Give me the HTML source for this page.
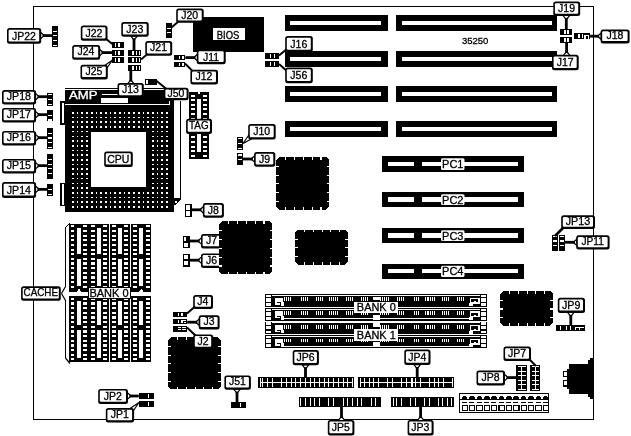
<!DOCTYPE html>
<html lang="en">
<head>
<meta charset="utf-8">
<title>35250 motherboard jumper layout</title>
<style>
html,body{margin:0;padding:0;background:#fff;}
body{width:631px;height:436px;overflow:hidden;}
svg{display:block;will-change:transform;}
svg text{font-family:"Liberation Sans",sans-serif;stroke:#000;stroke-width:0.3px;}
svg text[fill="#fff"]{stroke:#fff;}
</style>
</head>
<body>
<svg width="631" height="436" viewBox="0 0 631 436" shape-rendering="crispEdges">
<rect x="0" y="0" width="631" height="436" fill="#fff"/>
<line x1="33.5" y1="6" x2="33.5" y2="420" stroke="#000" stroke-width="1"/>
<line x1="33" y1="6.5" x2="594" y2="6.5" stroke="#000" stroke-width="1"/>
<line x1="593.5" y1="6" x2="593.5" y2="420" stroke="#000" stroke-width="1"/>
<line x1="33" y1="419.5" x2="594" y2="419.5" stroke="#000" stroke-width="1"/>
<rect x="285" y="15" width="103" height="16" fill="#000"/>
<rect x="290.4" y="20.6" width="90.6" height="4.8" fill="#fff"/>
<rect x="396" y="15" width="161" height="16" fill="#000"/>
<rect x="401.8" y="20.6" width="150.2" height="4.8" fill="#fff"/>
<rect x="285" y="51" width="103" height="16" fill="#000"/>
<rect x="290.4" y="56.6" width="90.6" height="4.8" fill="#fff"/>
<rect x="396" y="51" width="161" height="16" fill="#000"/>
<rect x="401.8" y="56.6" width="150.2" height="4.8" fill="#fff"/>
<rect x="285" y="86" width="103" height="16" fill="#000"/>
<rect x="290.4" y="91.6" width="90.6" height="4.8" fill="#fff"/>
<rect x="396" y="86" width="161" height="16" fill="#000"/>
<rect x="401.8" y="91.6" width="150.2" height="4.8" fill="#fff"/>
<rect x="285" y="121" width="103" height="16" fill="#000"/>
<rect x="290.4" y="126.6" width="90.6" height="4.8" fill="#fff"/>
<rect x="396" y="121" width="161" height="16" fill="#000"/>
<rect x="401.8" y="126.6" width="150.2" height="4.8" fill="#fff"/>
<rect x="382" y="156" width="142" height="16" fill="#000"/>
<rect x="388" y="161.8" width="26" height="4.4" fill="#fff"/>
<rect x="422" y="161.8" width="96" height="4.4" fill="#fff"/>
<rect x="441" y="158.2" width="23.5" height="11.8" rx="1.5" fill="#fff" shape-rendering="geometricPrecision"/>
<text x="452.8" y="168" font-size="11" text-anchor="middle" fill="#000">PC1</text>
<rect x="382" y="192" width="142" height="15" fill="#000"/>
<rect x="388" y="197.3" width="26" height="4.4" fill="#fff"/>
<rect x="422" y="197.3" width="96" height="4.4" fill="#fff"/>
<rect x="441" y="194.2" width="23.5" height="10.8" rx="1.5" fill="#fff" shape-rendering="geometricPrecision"/>
<text x="452.8" y="203.5" font-size="11" text-anchor="middle" fill="#000">PC2</text>
<rect x="382" y="228" width="142" height="15" fill="#000"/>
<rect x="388" y="233.3" width="26" height="4.4" fill="#fff"/>
<rect x="422" y="233.3" width="96" height="4.4" fill="#fff"/>
<rect x="441" y="230.2" width="23.5" height="10.8" rx="1.5" fill="#fff" shape-rendering="geometricPrecision"/>
<text x="452.8" y="239.5" font-size="11" text-anchor="middle" fill="#000">PC3</text>
<rect x="382" y="263.5" width="142" height="15.5" fill="#000"/>
<rect x="388" y="269.05" width="26" height="4.4" fill="#fff"/>
<rect x="422" y="269.05" width="96" height="4.4" fill="#fff"/>
<rect x="441" y="265.7" width="23.5" height="11.3" rx="1.5" fill="#fff" shape-rendering="geometricPrecision"/>
<text x="452.8" y="275.25" font-size="11" text-anchor="middle" fill="#000">PC4</text>
<text x="462" y="43.8" font-size="9.8" text-anchor="start" fill="#000" textLength="26.4" lengthAdjust="spacingAndGlyphs">35250</text>
<rect x="193" y="17" width="71" height="35" fill="#000"/>
<rect x="212.8" y="28.1" width="32.1" height="11.9" rx="1" fill="#fff"/>
<text x="228" y="38.6" font-size="10" text-anchor="middle" fill="#000" textLength="22.5" lengthAdjust="spacingAndGlyphs">BIOS</text>
<rect x="65" y="88" width="109" height="1" fill="#000"/>
<rect x="65" y="90" width="109" height="122" fill="#000"/>
<rect x="65" y="104" width="105" height="1" fill="#fff"/>
<rect x="169" y="101" width="1" height="4" fill="#fff"/>
<text x="69" y="98.7" font-size="10" text-anchor="start" fill="#fff" textLength="28.5" lengthAdjust="spacingAndGlyphs">AMP</text>
<rect x="102" y="94" width="16" height="1" fill="#fff"/>
<rect x="101" y="98" width="27" height="5" fill="#fff"/>
<rect x="72" y="112" width="1.75" height="1.6" fill="#fff"/>
<rect x="76.7" y="112" width="1.75" height="1.6" fill="#fff"/>
<rect x="81.4" y="112" width="1.75" height="1.6" fill="#fff"/>
<rect x="86.1" y="112" width="1.75" height="1.6" fill="#fff"/>
<rect x="90.8" y="112" width="1.75" height="1.6" fill="#fff"/>
<rect x="95.5" y="112" width="1.75" height="1.6" fill="#fff"/>
<rect x="100.2" y="112" width="1.75" height="1.6" fill="#fff"/>
<rect x="104.9" y="112" width="1.75" height="1.6" fill="#fff"/>
<rect x="109.6" y="112" width="1.75" height="1.6" fill="#fff"/>
<rect x="114.3" y="112" width="1.75" height="1.6" fill="#fff"/>
<rect x="119" y="112" width="1.75" height="1.6" fill="#fff"/>
<rect x="123.7" y="112" width="1.75" height="1.6" fill="#fff"/>
<rect x="128.4" y="112" width="1.75" height="1.6" fill="#fff"/>
<rect x="133.1" y="112" width="1.75" height="1.6" fill="#fff"/>
<rect x="137.8" y="112" width="1.75" height="1.6" fill="#fff"/>
<rect x="142.5" y="112" width="1.75" height="1.6" fill="#fff"/>
<rect x="147.2" y="112" width="1.75" height="1.6" fill="#fff"/>
<rect x="151.9" y="112" width="1.75" height="1.6" fill="#fff"/>
<rect x="156.6" y="112" width="1.75" height="1.6" fill="#fff"/>
<rect x="161.3" y="112" width="1.75" height="1.6" fill="#fff"/>
<rect x="166" y="112" width="1.75" height="1.6" fill="#fff"/>
<rect x="72" y="116.7" width="1.75" height="1.6" fill="#fff"/>
<rect x="76.7" y="116.7" width="1.75" height="1.6" fill="#fff"/>
<rect x="81.4" y="116.7" width="1.75" height="1.6" fill="#fff"/>
<rect x="86.1" y="116.7" width="1.75" height="1.6" fill="#fff"/>
<rect x="90.8" y="116.7" width="1.75" height="1.6" fill="#fff"/>
<rect x="95.5" y="116.7" width="1.75" height="1.6" fill="#fff"/>
<rect x="100.2" y="116.7" width="1.75" height="1.6" fill="#fff"/>
<rect x="104.9" y="116.7" width="1.75" height="1.6" fill="#fff"/>
<rect x="109.6" y="116.7" width="1.75" height="1.6" fill="#fff"/>
<rect x="114.3" y="116.7" width="1.75" height="1.6" fill="#fff"/>
<rect x="119" y="116.7" width="1.75" height="1.6" fill="#fff"/>
<rect x="123.7" y="116.7" width="1.75" height="1.6" fill="#fff"/>
<rect x="128.4" y="116.7" width="1.75" height="1.6" fill="#fff"/>
<rect x="133.1" y="116.7" width="1.75" height="1.6" fill="#fff"/>
<rect x="137.8" y="116.7" width="1.75" height="1.6" fill="#fff"/>
<rect x="142.5" y="116.7" width="1.75" height="1.6" fill="#fff"/>
<rect x="147.2" y="116.7" width="1.75" height="1.6" fill="#fff"/>
<rect x="151.9" y="116.7" width="1.75" height="1.6" fill="#fff"/>
<rect x="156.6" y="116.7" width="1.75" height="1.6" fill="#fff"/>
<rect x="161.3" y="116.7" width="1.75" height="1.6" fill="#fff"/>
<rect x="166" y="116.7" width="1.75" height="1.6" fill="#fff"/>
<rect x="72" y="121.4" width="1.75" height="1.6" fill="#fff"/>
<rect x="76.7" y="121.4" width="1.75" height="1.6" fill="#fff"/>
<rect x="81.4" y="121.4" width="1.75" height="1.6" fill="#fff"/>
<rect x="86.1" y="121.4" width="1.75" height="1.6" fill="#fff"/>
<rect x="90.8" y="121.4" width="1.75" height="1.6" fill="#fff"/>
<rect x="95.5" y="121.4" width="1.75" height="1.6" fill="#fff"/>
<rect x="100.2" y="121.4" width="1.75" height="1.6" fill="#fff"/>
<rect x="104.9" y="121.4" width="1.75" height="1.6" fill="#fff"/>
<rect x="109.6" y="121.4" width="1.75" height="1.6" fill="#fff"/>
<rect x="114.3" y="121.4" width="1.75" height="1.6" fill="#fff"/>
<rect x="119" y="121.4" width="1.75" height="1.6" fill="#fff"/>
<rect x="123.7" y="121.4" width="1.75" height="1.6" fill="#fff"/>
<rect x="128.4" y="121.4" width="1.75" height="1.6" fill="#fff"/>
<rect x="133.1" y="121.4" width="1.75" height="1.6" fill="#fff"/>
<rect x="137.8" y="121.4" width="1.75" height="1.6" fill="#fff"/>
<rect x="142.5" y="121.4" width="1.75" height="1.6" fill="#fff"/>
<rect x="147.2" y="121.4" width="1.75" height="1.6" fill="#fff"/>
<rect x="151.9" y="121.4" width="1.75" height="1.6" fill="#fff"/>
<rect x="156.6" y="121.4" width="1.75" height="1.6" fill="#fff"/>
<rect x="161.3" y="121.4" width="1.75" height="1.6" fill="#fff"/>
<rect x="166" y="121.4" width="1.75" height="1.6" fill="#fff"/>
<rect x="72" y="126.1" width="1.75" height="1.6" fill="#fff"/>
<rect x="76.7" y="126.1" width="1.75" height="1.6" fill="#fff"/>
<rect x="81.4" y="126.1" width="1.75" height="1.6" fill="#fff"/>
<rect x="86.1" y="126.1" width="1.75" height="1.6" fill="#fff"/>
<rect x="90.8" y="126.1" width="1.75" height="1.6" fill="#fff"/>
<rect x="95.5" y="126.1" width="1.75" height="1.6" fill="#fff"/>
<rect x="100.2" y="126.1" width="1.75" height="1.6" fill="#fff"/>
<rect x="104.9" y="126.1" width="1.75" height="1.6" fill="#fff"/>
<rect x="109.6" y="126.1" width="1.75" height="1.6" fill="#fff"/>
<rect x="114.3" y="126.1" width="1.75" height="1.6" fill="#fff"/>
<rect x="119" y="126.1" width="1.75" height="1.6" fill="#fff"/>
<rect x="123.7" y="126.1" width="1.75" height="1.6" fill="#fff"/>
<rect x="128.4" y="126.1" width="1.75" height="1.6" fill="#fff"/>
<rect x="133.1" y="126.1" width="1.75" height="1.6" fill="#fff"/>
<rect x="137.8" y="126.1" width="1.75" height="1.6" fill="#fff"/>
<rect x="142.5" y="126.1" width="1.75" height="1.6" fill="#fff"/>
<rect x="147.2" y="126.1" width="1.75" height="1.6" fill="#fff"/>
<rect x="151.9" y="126.1" width="1.75" height="1.6" fill="#fff"/>
<rect x="156.6" y="126.1" width="1.75" height="1.6" fill="#fff"/>
<rect x="161.3" y="126.1" width="1.75" height="1.6" fill="#fff"/>
<rect x="166" y="126.1" width="1.75" height="1.6" fill="#fff"/>
<rect x="72" y="130.8" width="1.75" height="1.6" fill="#fff"/>
<rect x="76.7" y="130.8" width="1.75" height="1.6" fill="#fff"/>
<rect x="81.4" y="130.8" width="1.75" height="1.6" fill="#fff"/>
<rect x="86.1" y="130.8" width="1.75" height="1.6" fill="#fff"/>
<rect x="90.8" y="130.8" width="1.75" height="1.6" fill="#fff"/>
<rect x="95.5" y="130.8" width="1.75" height="1.6" fill="#fff"/>
<rect x="100.2" y="130.8" width="1.75" height="1.6" fill="#fff"/>
<rect x="104.9" y="130.8" width="1.75" height="1.6" fill="#fff"/>
<rect x="109.6" y="130.8" width="1.75" height="1.6" fill="#fff"/>
<rect x="114.3" y="130.8" width="1.75" height="1.6" fill="#fff"/>
<rect x="119" y="130.8" width="1.75" height="1.6" fill="#fff"/>
<rect x="123.7" y="130.8" width="1.75" height="1.6" fill="#fff"/>
<rect x="128.4" y="130.8" width="1.75" height="1.6" fill="#fff"/>
<rect x="133.1" y="130.8" width="1.75" height="1.6" fill="#fff"/>
<rect x="137.8" y="130.8" width="1.75" height="1.6" fill="#fff"/>
<rect x="142.5" y="130.8" width="1.75" height="1.6" fill="#fff"/>
<rect x="147.2" y="130.8" width="1.75" height="1.6" fill="#fff"/>
<rect x="151.9" y="130.8" width="1.75" height="1.6" fill="#fff"/>
<rect x="156.6" y="130.8" width="1.75" height="1.6" fill="#fff"/>
<rect x="161.3" y="130.8" width="1.75" height="1.6" fill="#fff"/>
<rect x="166" y="130.8" width="1.75" height="1.6" fill="#fff"/>
<rect x="72" y="135.5" width="1.75" height="1.6" fill="#fff"/>
<rect x="76.7" y="135.5" width="1.75" height="1.6" fill="#fff"/>
<rect x="81.4" y="135.5" width="1.75" height="1.6" fill="#fff"/>
<rect x="86.1" y="135.5" width="1.75" height="1.6" fill="#fff"/>
<rect x="90.8" y="135.5" width="1.75" height="1.6" fill="#fff"/>
<rect x="95.5" y="135.5" width="1.75" height="1.6" fill="#fff"/>
<rect x="100.2" y="135.5" width="1.75" height="1.6" fill="#fff"/>
<rect x="104.9" y="135.5" width="1.75" height="1.6" fill="#fff"/>
<rect x="109.6" y="135.5" width="1.75" height="1.6" fill="#fff"/>
<rect x="114.3" y="135.5" width="1.75" height="1.6" fill="#fff"/>
<rect x="119" y="135.5" width="1.75" height="1.6" fill="#fff"/>
<rect x="123.7" y="135.5" width="1.75" height="1.6" fill="#fff"/>
<rect x="128.4" y="135.5" width="1.75" height="1.6" fill="#fff"/>
<rect x="133.1" y="135.5" width="1.75" height="1.6" fill="#fff"/>
<rect x="137.8" y="135.5" width="1.75" height="1.6" fill="#fff"/>
<rect x="142.5" y="135.5" width="1.75" height="1.6" fill="#fff"/>
<rect x="147.2" y="135.5" width="1.75" height="1.6" fill="#fff"/>
<rect x="151.9" y="135.5" width="1.75" height="1.6" fill="#fff"/>
<rect x="156.6" y="135.5" width="1.75" height="1.6" fill="#fff"/>
<rect x="161.3" y="135.5" width="1.75" height="1.6" fill="#fff"/>
<rect x="166" y="135.5" width="1.75" height="1.6" fill="#fff"/>
<rect x="72" y="140.2" width="1.75" height="1.6" fill="#fff"/>
<rect x="76.7" y="140.2" width="1.75" height="1.6" fill="#fff"/>
<rect x="81.4" y="140.2" width="1.75" height="1.6" fill="#fff"/>
<rect x="86.1" y="140.2" width="1.75" height="1.6" fill="#fff"/>
<rect x="90.8" y="140.2" width="1.75" height="1.6" fill="#fff"/>
<rect x="95.5" y="140.2" width="1.75" height="1.6" fill="#fff"/>
<rect x="100.2" y="140.2" width="1.75" height="1.6" fill="#fff"/>
<rect x="104.9" y="140.2" width="1.75" height="1.6" fill="#fff"/>
<rect x="109.6" y="140.2" width="1.75" height="1.6" fill="#fff"/>
<rect x="114.3" y="140.2" width="1.75" height="1.6" fill="#fff"/>
<rect x="119" y="140.2" width="1.75" height="1.6" fill="#fff"/>
<rect x="123.7" y="140.2" width="1.75" height="1.6" fill="#fff"/>
<rect x="128.4" y="140.2" width="1.75" height="1.6" fill="#fff"/>
<rect x="133.1" y="140.2" width="1.75" height="1.6" fill="#fff"/>
<rect x="137.8" y="140.2" width="1.75" height="1.6" fill="#fff"/>
<rect x="142.5" y="140.2" width="1.75" height="1.6" fill="#fff"/>
<rect x="147.2" y="140.2" width="1.75" height="1.6" fill="#fff"/>
<rect x="151.9" y="140.2" width="1.75" height="1.6" fill="#fff"/>
<rect x="156.6" y="140.2" width="1.75" height="1.6" fill="#fff"/>
<rect x="161.3" y="140.2" width="1.75" height="1.6" fill="#fff"/>
<rect x="166" y="140.2" width="1.75" height="1.6" fill="#fff"/>
<rect x="72" y="144.9" width="1.75" height="1.6" fill="#fff"/>
<rect x="76.7" y="144.9" width="1.75" height="1.6" fill="#fff"/>
<rect x="81.4" y="144.9" width="1.75" height="1.6" fill="#fff"/>
<rect x="86.1" y="144.9" width="1.75" height="1.6" fill="#fff"/>
<rect x="90.8" y="144.9" width="1.75" height="1.6" fill="#fff"/>
<rect x="95.5" y="144.9" width="1.75" height="1.6" fill="#fff"/>
<rect x="100.2" y="144.9" width="1.75" height="1.6" fill="#fff"/>
<rect x="104.9" y="144.9" width="1.75" height="1.6" fill="#fff"/>
<rect x="109.6" y="144.9" width="1.75" height="1.6" fill="#fff"/>
<rect x="114.3" y="144.9" width="1.75" height="1.6" fill="#fff"/>
<rect x="119" y="144.9" width="1.75" height="1.6" fill="#fff"/>
<rect x="123.7" y="144.9" width="1.75" height="1.6" fill="#fff"/>
<rect x="128.4" y="144.9" width="1.75" height="1.6" fill="#fff"/>
<rect x="133.1" y="144.9" width="1.75" height="1.6" fill="#fff"/>
<rect x="137.8" y="144.9" width="1.75" height="1.6" fill="#fff"/>
<rect x="142.5" y="144.9" width="1.75" height="1.6" fill="#fff"/>
<rect x="147.2" y="144.9" width="1.75" height="1.6" fill="#fff"/>
<rect x="151.9" y="144.9" width="1.75" height="1.6" fill="#fff"/>
<rect x="156.6" y="144.9" width="1.75" height="1.6" fill="#fff"/>
<rect x="161.3" y="144.9" width="1.75" height="1.6" fill="#fff"/>
<rect x="166" y="144.9" width="1.75" height="1.6" fill="#fff"/>
<rect x="72" y="149.6" width="1.75" height="1.6" fill="#fff"/>
<rect x="76.7" y="149.6" width="1.75" height="1.6" fill="#fff"/>
<rect x="81.4" y="149.6" width="1.75" height="1.6" fill="#fff"/>
<rect x="86.1" y="149.6" width="1.75" height="1.6" fill="#fff"/>
<rect x="90.8" y="149.6" width="1.75" height="1.6" fill="#fff"/>
<rect x="95.5" y="149.6" width="1.75" height="1.6" fill="#fff"/>
<rect x="100.2" y="149.6" width="1.75" height="1.6" fill="#fff"/>
<rect x="104.9" y="149.6" width="1.75" height="1.6" fill="#fff"/>
<rect x="109.6" y="149.6" width="1.75" height="1.6" fill="#fff"/>
<rect x="114.3" y="149.6" width="1.75" height="1.6" fill="#fff"/>
<rect x="119" y="149.6" width="1.75" height="1.6" fill="#fff"/>
<rect x="123.7" y="149.6" width="1.75" height="1.6" fill="#fff"/>
<rect x="128.4" y="149.6" width="1.75" height="1.6" fill="#fff"/>
<rect x="133.1" y="149.6" width="1.75" height="1.6" fill="#fff"/>
<rect x="137.8" y="149.6" width="1.75" height="1.6" fill="#fff"/>
<rect x="142.5" y="149.6" width="1.75" height="1.6" fill="#fff"/>
<rect x="147.2" y="149.6" width="1.75" height="1.6" fill="#fff"/>
<rect x="151.9" y="149.6" width="1.75" height="1.6" fill="#fff"/>
<rect x="156.6" y="149.6" width="1.75" height="1.6" fill="#fff"/>
<rect x="161.3" y="149.6" width="1.75" height="1.6" fill="#fff"/>
<rect x="166" y="149.6" width="1.75" height="1.6" fill="#fff"/>
<rect x="72" y="154.3" width="1.75" height="1.6" fill="#fff"/>
<rect x="76.7" y="154.3" width="1.75" height="1.6" fill="#fff"/>
<rect x="81.4" y="154.3" width="1.75" height="1.6" fill="#fff"/>
<rect x="86.1" y="154.3" width="1.75" height="1.6" fill="#fff"/>
<rect x="90.8" y="154.3" width="1.75" height="1.6" fill="#fff"/>
<rect x="95.5" y="154.3" width="1.75" height="1.6" fill="#fff"/>
<rect x="100.2" y="154.3" width="1.75" height="1.6" fill="#fff"/>
<rect x="104.9" y="154.3" width="1.75" height="1.6" fill="#fff"/>
<rect x="109.6" y="154.3" width="1.75" height="1.6" fill="#fff"/>
<rect x="114.3" y="154.3" width="1.75" height="1.6" fill="#fff"/>
<rect x="119" y="154.3" width="1.75" height="1.6" fill="#fff"/>
<rect x="123.7" y="154.3" width="1.75" height="1.6" fill="#fff"/>
<rect x="128.4" y="154.3" width="1.75" height="1.6" fill="#fff"/>
<rect x="133.1" y="154.3" width="1.75" height="1.6" fill="#fff"/>
<rect x="137.8" y="154.3" width="1.75" height="1.6" fill="#fff"/>
<rect x="142.5" y="154.3" width="1.75" height="1.6" fill="#fff"/>
<rect x="147.2" y="154.3" width="1.75" height="1.6" fill="#fff"/>
<rect x="151.9" y="154.3" width="1.75" height="1.6" fill="#fff"/>
<rect x="156.6" y="154.3" width="1.75" height="1.6" fill="#fff"/>
<rect x="161.3" y="154.3" width="1.75" height="1.6" fill="#fff"/>
<rect x="166" y="154.3" width="1.75" height="1.6" fill="#fff"/>
<rect x="72" y="159" width="1.75" height="1.6" fill="#fff"/>
<rect x="76.7" y="159" width="1.75" height="1.6" fill="#fff"/>
<rect x="81.4" y="159" width="1.75" height="1.6" fill="#fff"/>
<rect x="86.1" y="159" width="1.75" height="1.6" fill="#fff"/>
<rect x="90.8" y="159" width="1.75" height="1.6" fill="#fff"/>
<rect x="95.5" y="159" width="1.75" height="1.6" fill="#fff"/>
<rect x="100.2" y="159" width="1.75" height="1.6" fill="#fff"/>
<rect x="104.9" y="159" width="1.75" height="1.6" fill="#fff"/>
<rect x="109.6" y="159" width="1.75" height="1.6" fill="#fff"/>
<rect x="114.3" y="159" width="1.75" height="1.6" fill="#fff"/>
<rect x="119" y="159" width="1.75" height="1.6" fill="#fff"/>
<rect x="123.7" y="159" width="1.75" height="1.6" fill="#fff"/>
<rect x="128.4" y="159" width="1.75" height="1.6" fill="#fff"/>
<rect x="133.1" y="159" width="1.75" height="1.6" fill="#fff"/>
<rect x="137.8" y="159" width="1.75" height="1.6" fill="#fff"/>
<rect x="142.5" y="159" width="1.75" height="1.6" fill="#fff"/>
<rect x="147.2" y="159" width="1.75" height="1.6" fill="#fff"/>
<rect x="151.9" y="159" width="1.75" height="1.6" fill="#fff"/>
<rect x="156.6" y="159" width="1.75" height="1.6" fill="#fff"/>
<rect x="161.3" y="159" width="1.75" height="1.6" fill="#fff"/>
<rect x="166" y="159" width="1.75" height="1.6" fill="#fff"/>
<rect x="72" y="163.7" width="1.75" height="1.6" fill="#fff"/>
<rect x="76.7" y="163.7" width="1.75" height="1.6" fill="#fff"/>
<rect x="81.4" y="163.7" width="1.75" height="1.6" fill="#fff"/>
<rect x="86.1" y="163.7" width="1.75" height="1.6" fill="#fff"/>
<rect x="90.8" y="163.7" width="1.75" height="1.6" fill="#fff"/>
<rect x="95.5" y="163.7" width="1.75" height="1.6" fill="#fff"/>
<rect x="100.2" y="163.7" width="1.75" height="1.6" fill="#fff"/>
<rect x="104.9" y="163.7" width="1.75" height="1.6" fill="#fff"/>
<rect x="109.6" y="163.7" width="1.75" height="1.6" fill="#fff"/>
<rect x="114.3" y="163.7" width="1.75" height="1.6" fill="#fff"/>
<rect x="119" y="163.7" width="1.75" height="1.6" fill="#fff"/>
<rect x="123.7" y="163.7" width="1.75" height="1.6" fill="#fff"/>
<rect x="128.4" y="163.7" width="1.75" height="1.6" fill="#fff"/>
<rect x="133.1" y="163.7" width="1.75" height="1.6" fill="#fff"/>
<rect x="137.8" y="163.7" width="1.75" height="1.6" fill="#fff"/>
<rect x="142.5" y="163.7" width="1.75" height="1.6" fill="#fff"/>
<rect x="147.2" y="163.7" width="1.75" height="1.6" fill="#fff"/>
<rect x="151.9" y="163.7" width="1.75" height="1.6" fill="#fff"/>
<rect x="156.6" y="163.7" width="1.75" height="1.6" fill="#fff"/>
<rect x="161.3" y="163.7" width="1.75" height="1.6" fill="#fff"/>
<rect x="166" y="163.7" width="1.75" height="1.6" fill="#fff"/>
<rect x="72" y="168.4" width="1.75" height="1.6" fill="#fff"/>
<rect x="76.7" y="168.4" width="1.75" height="1.6" fill="#fff"/>
<rect x="81.4" y="168.4" width="1.75" height="1.6" fill="#fff"/>
<rect x="86.1" y="168.4" width="1.75" height="1.6" fill="#fff"/>
<rect x="90.8" y="168.4" width="1.75" height="1.6" fill="#fff"/>
<rect x="95.5" y="168.4" width="1.75" height="1.6" fill="#fff"/>
<rect x="100.2" y="168.4" width="1.75" height="1.6" fill="#fff"/>
<rect x="104.9" y="168.4" width="1.75" height="1.6" fill="#fff"/>
<rect x="109.6" y="168.4" width="1.75" height="1.6" fill="#fff"/>
<rect x="114.3" y="168.4" width="1.75" height="1.6" fill="#fff"/>
<rect x="119" y="168.4" width="1.75" height="1.6" fill="#fff"/>
<rect x="123.7" y="168.4" width="1.75" height="1.6" fill="#fff"/>
<rect x="128.4" y="168.4" width="1.75" height="1.6" fill="#fff"/>
<rect x="133.1" y="168.4" width="1.75" height="1.6" fill="#fff"/>
<rect x="137.8" y="168.4" width="1.75" height="1.6" fill="#fff"/>
<rect x="142.5" y="168.4" width="1.75" height="1.6" fill="#fff"/>
<rect x="147.2" y="168.4" width="1.75" height="1.6" fill="#fff"/>
<rect x="151.9" y="168.4" width="1.75" height="1.6" fill="#fff"/>
<rect x="156.6" y="168.4" width="1.75" height="1.6" fill="#fff"/>
<rect x="161.3" y="168.4" width="1.75" height="1.6" fill="#fff"/>
<rect x="166" y="168.4" width="1.75" height="1.6" fill="#fff"/>
<rect x="72" y="173.1" width="1.75" height="1.6" fill="#fff"/>
<rect x="76.7" y="173.1" width="1.75" height="1.6" fill="#fff"/>
<rect x="81.4" y="173.1" width="1.75" height="1.6" fill="#fff"/>
<rect x="86.1" y="173.1" width="1.75" height="1.6" fill="#fff"/>
<rect x="90.8" y="173.1" width="1.75" height="1.6" fill="#fff"/>
<rect x="95.5" y="173.1" width="1.75" height="1.6" fill="#fff"/>
<rect x="100.2" y="173.1" width="1.75" height="1.6" fill="#fff"/>
<rect x="104.9" y="173.1" width="1.75" height="1.6" fill="#fff"/>
<rect x="109.6" y="173.1" width="1.75" height="1.6" fill="#fff"/>
<rect x="114.3" y="173.1" width="1.75" height="1.6" fill="#fff"/>
<rect x="119" y="173.1" width="1.75" height="1.6" fill="#fff"/>
<rect x="123.7" y="173.1" width="1.75" height="1.6" fill="#fff"/>
<rect x="128.4" y="173.1" width="1.75" height="1.6" fill="#fff"/>
<rect x="133.1" y="173.1" width="1.75" height="1.6" fill="#fff"/>
<rect x="137.8" y="173.1" width="1.75" height="1.6" fill="#fff"/>
<rect x="142.5" y="173.1" width="1.75" height="1.6" fill="#fff"/>
<rect x="147.2" y="173.1" width="1.75" height="1.6" fill="#fff"/>
<rect x="151.9" y="173.1" width="1.75" height="1.6" fill="#fff"/>
<rect x="156.6" y="173.1" width="1.75" height="1.6" fill="#fff"/>
<rect x="161.3" y="173.1" width="1.75" height="1.6" fill="#fff"/>
<rect x="166" y="173.1" width="1.75" height="1.6" fill="#fff"/>
<rect x="72" y="177.8" width="1.75" height="1.6" fill="#fff"/>
<rect x="76.7" y="177.8" width="1.75" height="1.6" fill="#fff"/>
<rect x="81.4" y="177.8" width="1.75" height="1.6" fill="#fff"/>
<rect x="86.1" y="177.8" width="1.75" height="1.6" fill="#fff"/>
<rect x="90.8" y="177.8" width="1.75" height="1.6" fill="#fff"/>
<rect x="95.5" y="177.8" width="1.75" height="1.6" fill="#fff"/>
<rect x="100.2" y="177.8" width="1.75" height="1.6" fill="#fff"/>
<rect x="104.9" y="177.8" width="1.75" height="1.6" fill="#fff"/>
<rect x="109.6" y="177.8" width="1.75" height="1.6" fill="#fff"/>
<rect x="114.3" y="177.8" width="1.75" height="1.6" fill="#fff"/>
<rect x="119" y="177.8" width="1.75" height="1.6" fill="#fff"/>
<rect x="123.7" y="177.8" width="1.75" height="1.6" fill="#fff"/>
<rect x="128.4" y="177.8" width="1.75" height="1.6" fill="#fff"/>
<rect x="133.1" y="177.8" width="1.75" height="1.6" fill="#fff"/>
<rect x="137.8" y="177.8" width="1.75" height="1.6" fill="#fff"/>
<rect x="142.5" y="177.8" width="1.75" height="1.6" fill="#fff"/>
<rect x="147.2" y="177.8" width="1.75" height="1.6" fill="#fff"/>
<rect x="151.9" y="177.8" width="1.75" height="1.6" fill="#fff"/>
<rect x="156.6" y="177.8" width="1.75" height="1.6" fill="#fff"/>
<rect x="161.3" y="177.8" width="1.75" height="1.6" fill="#fff"/>
<rect x="166" y="177.8" width="1.75" height="1.6" fill="#fff"/>
<rect x="72" y="182.5" width="1.75" height="1.6" fill="#fff"/>
<rect x="76.7" y="182.5" width="1.75" height="1.6" fill="#fff"/>
<rect x="81.4" y="182.5" width="1.75" height="1.6" fill="#fff"/>
<rect x="86.1" y="182.5" width="1.75" height="1.6" fill="#fff"/>
<rect x="90.8" y="182.5" width="1.75" height="1.6" fill="#fff"/>
<rect x="95.5" y="182.5" width="1.75" height="1.6" fill="#fff"/>
<rect x="100.2" y="182.5" width="1.75" height="1.6" fill="#fff"/>
<rect x="104.9" y="182.5" width="1.75" height="1.6" fill="#fff"/>
<rect x="109.6" y="182.5" width="1.75" height="1.6" fill="#fff"/>
<rect x="114.3" y="182.5" width="1.75" height="1.6" fill="#fff"/>
<rect x="119" y="182.5" width="1.75" height="1.6" fill="#fff"/>
<rect x="123.7" y="182.5" width="1.75" height="1.6" fill="#fff"/>
<rect x="128.4" y="182.5" width="1.75" height="1.6" fill="#fff"/>
<rect x="133.1" y="182.5" width="1.75" height="1.6" fill="#fff"/>
<rect x="137.8" y="182.5" width="1.75" height="1.6" fill="#fff"/>
<rect x="142.5" y="182.5" width="1.75" height="1.6" fill="#fff"/>
<rect x="147.2" y="182.5" width="1.75" height="1.6" fill="#fff"/>
<rect x="151.9" y="182.5" width="1.75" height="1.6" fill="#fff"/>
<rect x="156.6" y="182.5" width="1.75" height="1.6" fill="#fff"/>
<rect x="161.3" y="182.5" width="1.75" height="1.6" fill="#fff"/>
<rect x="166" y="182.5" width="1.75" height="1.6" fill="#fff"/>
<rect x="72" y="187.2" width="1.75" height="1.6" fill="#fff"/>
<rect x="76.7" y="187.2" width="1.75" height="1.6" fill="#fff"/>
<rect x="81.4" y="187.2" width="1.75" height="1.6" fill="#fff"/>
<rect x="86.1" y="187.2" width="1.75" height="1.6" fill="#fff"/>
<rect x="90.8" y="187.2" width="1.75" height="1.6" fill="#fff"/>
<rect x="95.5" y="187.2" width="1.75" height="1.6" fill="#fff"/>
<rect x="100.2" y="187.2" width="1.75" height="1.6" fill="#fff"/>
<rect x="104.9" y="187.2" width="1.75" height="1.6" fill="#fff"/>
<rect x="109.6" y="187.2" width="1.75" height="1.6" fill="#fff"/>
<rect x="114.3" y="187.2" width="1.75" height="1.6" fill="#fff"/>
<rect x="119" y="187.2" width="1.75" height="1.6" fill="#fff"/>
<rect x="123.7" y="187.2" width="1.75" height="1.6" fill="#fff"/>
<rect x="128.4" y="187.2" width="1.75" height="1.6" fill="#fff"/>
<rect x="133.1" y="187.2" width="1.75" height="1.6" fill="#fff"/>
<rect x="137.8" y="187.2" width="1.75" height="1.6" fill="#fff"/>
<rect x="142.5" y="187.2" width="1.75" height="1.6" fill="#fff"/>
<rect x="147.2" y="187.2" width="1.75" height="1.6" fill="#fff"/>
<rect x="151.9" y="187.2" width="1.75" height="1.6" fill="#fff"/>
<rect x="156.6" y="187.2" width="1.75" height="1.6" fill="#fff"/>
<rect x="161.3" y="187.2" width="1.75" height="1.6" fill="#fff"/>
<rect x="166" y="187.2" width="1.75" height="1.6" fill="#fff"/>
<rect x="72" y="191.9" width="1.75" height="1.6" fill="#fff"/>
<rect x="76.7" y="191.9" width="1.75" height="1.6" fill="#fff"/>
<rect x="81.4" y="191.9" width="1.75" height="1.6" fill="#fff"/>
<rect x="86.1" y="191.9" width="1.75" height="1.6" fill="#fff"/>
<rect x="90.8" y="191.9" width="1.75" height="1.6" fill="#fff"/>
<rect x="95.5" y="191.9" width="1.75" height="1.6" fill="#fff"/>
<rect x="100.2" y="191.9" width="1.75" height="1.6" fill="#fff"/>
<rect x="104.9" y="191.9" width="1.75" height="1.6" fill="#fff"/>
<rect x="109.6" y="191.9" width="1.75" height="1.6" fill="#fff"/>
<rect x="114.3" y="191.9" width="1.75" height="1.6" fill="#fff"/>
<rect x="119" y="191.9" width="1.75" height="1.6" fill="#fff"/>
<rect x="123.7" y="191.9" width="1.75" height="1.6" fill="#fff"/>
<rect x="128.4" y="191.9" width="1.75" height="1.6" fill="#fff"/>
<rect x="133.1" y="191.9" width="1.75" height="1.6" fill="#fff"/>
<rect x="137.8" y="191.9" width="1.75" height="1.6" fill="#fff"/>
<rect x="142.5" y="191.9" width="1.75" height="1.6" fill="#fff"/>
<rect x="147.2" y="191.9" width="1.75" height="1.6" fill="#fff"/>
<rect x="151.9" y="191.9" width="1.75" height="1.6" fill="#fff"/>
<rect x="156.6" y="191.9" width="1.75" height="1.6" fill="#fff"/>
<rect x="161.3" y="191.9" width="1.75" height="1.6" fill="#fff"/>
<rect x="166" y="191.9" width="1.75" height="1.6" fill="#fff"/>
<rect x="72" y="196.6" width="1.75" height="1.6" fill="#fff"/>
<rect x="76.7" y="196.6" width="1.75" height="1.6" fill="#fff"/>
<rect x="81.4" y="196.6" width="1.75" height="1.6" fill="#fff"/>
<rect x="86.1" y="196.6" width="1.75" height="1.6" fill="#fff"/>
<rect x="90.8" y="196.6" width="1.75" height="1.6" fill="#fff"/>
<rect x="95.5" y="196.6" width="1.75" height="1.6" fill="#fff"/>
<rect x="100.2" y="196.6" width="1.75" height="1.6" fill="#fff"/>
<rect x="104.9" y="196.6" width="1.75" height="1.6" fill="#fff"/>
<rect x="109.6" y="196.6" width="1.75" height="1.6" fill="#fff"/>
<rect x="114.3" y="196.6" width="1.75" height="1.6" fill="#fff"/>
<rect x="119" y="196.6" width="1.75" height="1.6" fill="#fff"/>
<rect x="123.7" y="196.6" width="1.75" height="1.6" fill="#fff"/>
<rect x="128.4" y="196.6" width="1.75" height="1.6" fill="#fff"/>
<rect x="133.1" y="196.6" width="1.75" height="1.6" fill="#fff"/>
<rect x="137.8" y="196.6" width="1.75" height="1.6" fill="#fff"/>
<rect x="142.5" y="196.6" width="1.75" height="1.6" fill="#fff"/>
<rect x="147.2" y="196.6" width="1.75" height="1.6" fill="#fff"/>
<rect x="151.9" y="196.6" width="1.75" height="1.6" fill="#fff"/>
<rect x="156.6" y="196.6" width="1.75" height="1.6" fill="#fff"/>
<rect x="161.3" y="196.6" width="1.75" height="1.6" fill="#fff"/>
<rect x="166" y="196.6" width="1.75" height="1.6" fill="#fff"/>
<rect x="72" y="201.3" width="1.75" height="1.6" fill="#fff"/>
<rect x="76.7" y="201.3" width="1.75" height="1.6" fill="#fff"/>
<rect x="81.4" y="201.3" width="1.75" height="1.6" fill="#fff"/>
<rect x="86.1" y="201.3" width="1.75" height="1.6" fill="#fff"/>
<rect x="90.8" y="201.3" width="1.75" height="1.6" fill="#fff"/>
<rect x="95.5" y="201.3" width="1.75" height="1.6" fill="#fff"/>
<rect x="100.2" y="201.3" width="1.75" height="1.6" fill="#fff"/>
<rect x="104.9" y="201.3" width="1.75" height="1.6" fill="#fff"/>
<rect x="109.6" y="201.3" width="1.75" height="1.6" fill="#fff"/>
<rect x="114.3" y="201.3" width="1.75" height="1.6" fill="#fff"/>
<rect x="119" y="201.3" width="1.75" height="1.6" fill="#fff"/>
<rect x="123.7" y="201.3" width="1.75" height="1.6" fill="#fff"/>
<rect x="128.4" y="201.3" width="1.75" height="1.6" fill="#fff"/>
<rect x="133.1" y="201.3" width="1.75" height="1.6" fill="#fff"/>
<rect x="137.8" y="201.3" width="1.75" height="1.6" fill="#fff"/>
<rect x="142.5" y="201.3" width="1.75" height="1.6" fill="#fff"/>
<rect x="147.2" y="201.3" width="1.75" height="1.6" fill="#fff"/>
<rect x="151.9" y="201.3" width="1.75" height="1.6" fill="#fff"/>
<rect x="156.6" y="201.3" width="1.75" height="1.6" fill="#fff"/>
<rect x="161.3" y="201.3" width="1.75" height="1.6" fill="#fff"/>
<rect x="166" y="201.3" width="1.75" height="1.6" fill="#fff"/>
<rect x="72" y="206" width="1.75" height="1.6" fill="#fff"/>
<rect x="76.7" y="206" width="1.75" height="1.6" fill="#fff"/>
<rect x="81.4" y="206" width="1.75" height="1.6" fill="#fff"/>
<rect x="86.1" y="206" width="1.75" height="1.6" fill="#fff"/>
<rect x="90.8" y="206" width="1.75" height="1.6" fill="#fff"/>
<rect x="95.5" y="206" width="1.75" height="1.6" fill="#fff"/>
<rect x="100.2" y="206" width="1.75" height="1.6" fill="#fff"/>
<rect x="104.9" y="206" width="1.75" height="1.6" fill="#fff"/>
<rect x="109.6" y="206" width="1.75" height="1.6" fill="#fff"/>
<rect x="114.3" y="206" width="1.75" height="1.6" fill="#fff"/>
<rect x="119" y="206" width="1.75" height="1.6" fill="#fff"/>
<rect x="123.7" y="206" width="1.75" height="1.6" fill="#fff"/>
<rect x="128.4" y="206" width="1.75" height="1.6" fill="#fff"/>
<rect x="133.1" y="206" width="1.75" height="1.6" fill="#fff"/>
<rect x="137.8" y="206" width="1.75" height="1.6" fill="#fff"/>
<rect x="142.5" y="206" width="1.75" height="1.6" fill="#fff"/>
<rect x="147.2" y="206" width="1.75" height="1.6" fill="#fff"/>
<rect x="151.9" y="206" width="1.75" height="1.6" fill="#fff"/>
<rect x="156.6" y="206" width="1.75" height="1.6" fill="#fff"/>
<rect x="161.3" y="206" width="1.75" height="1.6" fill="#fff"/>
<rect x="166" y="206" width="1.75" height="1.6" fill="#fff"/>
<rect x="89.5" y="129.5" width="61" height="60.5" fill="#000"/>
<rect x="91" y="132" width="55" height="55" fill="#fff"/>
<line x1="180.5" y1="101" x2="180.5" y2="199" stroke="#000" stroke-width="1"/>
<line x1="174" y1="198.5" x2="181" y2="198.5" stroke="#000" stroke-width="1"/>
<polygon points="174,199 181,199 176.5,204.5 174,204.5" fill="#000"/>
<rect x="174.5" y="201" width="2" height="2" fill="#fff"/>
<rect x="60.4" y="101.2" width="4.6" height="23.3" fill="#000"/>
<rect x="62" y="102.5" width="2" height="20.7" fill="#fff"/>
<rect x="60.4" y="182.8" width="4.6" height="23.2" fill="#000"/>
<rect x="62" y="184.1" width="2" height="20.6" fill="#fff"/>
<rect x="104.2" y="151.5" width="28.6" height="15.4" rx="2.5" fill="#000" shape-rendering="geometricPrecision"/>
<rect x="105.8" y="153.2" width="25" height="11.4" rx="1.2" fill="#fff" shape-rendering="geometricPrecision"/>
<text x="118.3" y="162.6" font-size="10.5" text-anchor="middle" fill="#000">CPU</text>
<rect x="189" y="92" width="20" height="67" fill="#000"/>
<rect x="197" y="99" width="4" height="53" fill="#fff"/>
<rect x="198" y="92" width="2" height="2" fill="#fff"/>
<rect x="191" y="94.5" width="4" height="2" fill="#fff"/>
<rect x="203" y="94.5" width="4" height="2" fill="#fff"/>
<rect x="191" y="99.15" width="4" height="2" fill="#fff"/>
<rect x="203" y="99.15" width="4" height="2" fill="#fff"/>
<rect x="191" y="103.8" width="4" height="2" fill="#fff"/>
<rect x="203" y="103.8" width="4" height="2" fill="#fff"/>
<rect x="191" y="108.45" width="4" height="2" fill="#fff"/>
<rect x="203" y="108.45" width="4" height="2" fill="#fff"/>
<rect x="191" y="113.1" width="4" height="2" fill="#fff"/>
<rect x="203" y="113.1" width="4" height="2" fill="#fff"/>
<rect x="191" y="117.75" width="4" height="2" fill="#fff"/>
<rect x="203" y="117.75" width="4" height="2" fill="#fff"/>
<rect x="191" y="122.4" width="4" height="2" fill="#fff"/>
<rect x="203" y="122.4" width="4" height="2" fill="#fff"/>
<rect x="191" y="127.05" width="4" height="2" fill="#fff"/>
<rect x="203" y="127.05" width="4" height="2" fill="#fff"/>
<rect x="191" y="131.7" width="4" height="2" fill="#fff"/>
<rect x="203" y="131.7" width="4" height="2" fill="#fff"/>
<rect x="191" y="136.35" width="4" height="2" fill="#fff"/>
<rect x="203" y="136.35" width="4" height="2" fill="#fff"/>
<rect x="191" y="141" width="4" height="2" fill="#fff"/>
<rect x="203" y="141" width="4" height="2" fill="#fff"/>
<rect x="191" y="145.65" width="4" height="2" fill="#fff"/>
<rect x="203" y="145.65" width="4" height="2" fill="#fff"/>
<rect x="191" y="150.3" width="4" height="2" fill="#fff"/>
<rect x="203" y="150.3" width="4" height="2" fill="#fff"/>
<rect x="191" y="154.95" width="4" height="2" fill="#fff"/>
<rect x="203" y="154.95" width="4" height="2" fill="#fff"/>
<rect x="186.1" y="118.8" width="25.9" height="15.3" rx="2.5" fill="#000" shape-rendering="geometricPrecision"/>
<rect x="187.7" y="120.5" width="22.3" height="11.3" rx="1.2" fill="#fff" shape-rendering="geometricPrecision"/>
<text x="198.85" y="129.1" font-size="10.5" text-anchor="middle" fill="#000" textLength="19.6" lengthAdjust="spacingAndGlyphs">TAG</text>
<rect x="69" y="223.5" width="82.2" height="138.5" fill="#000"/>
<rect x="109.1" y="223.5" width="1" height="138.5" fill="#fff"/>
<rect x="130" y="223.5" width="1" height="138.5" fill="#fff"/>
<rect x="66" y="291.5" width="85.2" height="4.1" fill="#fff"/>
<rect x="76.9" y="227.5" width="4" height="26.3" fill="#fff"/>
<rect x="97.4" y="227.5" width="4" height="26.3" fill="#fff"/>
<rect x="118" y="227.5" width="4" height="26.3" fill="#fff"/>
<rect x="139.3" y="227.5" width="4.1" height="26.3" fill="#fff"/>
<rect x="76.9" y="258.7" width="4" height="27.3" fill="#fff"/>
<rect x="97.4" y="258.7" width="4" height="27.3" fill="#fff"/>
<rect x="118" y="258.7" width="4" height="27.3" fill="#fff"/>
<rect x="139.3" y="258.7" width="4.1" height="27.3" fill="#fff"/>
<rect x="76.9" y="301" width="4" height="24.4" fill="#fff"/>
<rect x="97.4" y="301" width="4" height="24.4" fill="#fff"/>
<rect x="118" y="301" width="4" height="24.4" fill="#fff"/>
<rect x="139.3" y="301" width="4.1" height="24.4" fill="#fff"/>
<rect x="76.9" y="329.7" width="4" height="28.3" fill="#fff"/>
<rect x="97.4" y="329.7" width="4" height="28.3" fill="#fff"/>
<rect x="118" y="329.7" width="4" height="28.3" fill="#fff"/>
<rect x="139.3" y="329.7" width="4.1" height="28.3" fill="#fff"/>
<rect x="70.7" y="225.2" width="3.6" height="2.2" fill="#fff"/>
<rect x="83" y="225.2" width="4" height="2.2" fill="#fff"/>
<rect x="91.2" y="225.2" width="4" height="2.2" fill="#fff"/>
<rect x="103.2" y="225.2" width="4" height="2.2" fill="#fff"/>
<rect x="112.3" y="225.2" width="3.7" height="2.2" fill="#fff"/>
<rect x="124.3" y="225.2" width="4" height="2.2" fill="#fff"/>
<rect x="133" y="225.2" width="4" height="2.2" fill="#fff"/>
<rect x="146" y="225.2" width="4" height="2.2" fill="#fff"/>
<rect x="70.7" y="297.7" width="3.6" height="2.2" fill="#fff"/>
<rect x="83" y="297.7" width="4" height="2.2" fill="#fff"/>
<rect x="91.2" y="297.7" width="4" height="2.2" fill="#fff"/>
<rect x="103.2" y="297.7" width="4" height="2.2" fill="#fff"/>
<rect x="112.3" y="297.7" width="3.7" height="2.2" fill="#fff"/>
<rect x="124.3" y="297.7" width="4" height="2.2" fill="#fff"/>
<rect x="133" y="297.7" width="4" height="2.2" fill="#fff"/>
<rect x="146" y="297.7" width="4" height="2.2" fill="#fff"/>
<rect x="70.7" y="229.86" width="3.6" height="2.2" fill="#fff"/>
<rect x="83" y="229.86" width="4" height="2.2" fill="#fff"/>
<rect x="91.2" y="229.86" width="4" height="2.2" fill="#fff"/>
<rect x="103.2" y="229.86" width="4" height="2.2" fill="#fff"/>
<rect x="112.3" y="229.86" width="3.7" height="2.2" fill="#fff"/>
<rect x="124.3" y="229.86" width="4" height="2.2" fill="#fff"/>
<rect x="133" y="229.86" width="4" height="2.2" fill="#fff"/>
<rect x="146" y="229.86" width="4" height="2.2" fill="#fff"/>
<rect x="70.7" y="302.36" width="3.6" height="2.2" fill="#fff"/>
<rect x="83" y="302.36" width="4" height="2.2" fill="#fff"/>
<rect x="91.2" y="302.36" width="4" height="2.2" fill="#fff"/>
<rect x="103.2" y="302.36" width="4" height="2.2" fill="#fff"/>
<rect x="112.3" y="302.36" width="3.7" height="2.2" fill="#fff"/>
<rect x="124.3" y="302.36" width="4" height="2.2" fill="#fff"/>
<rect x="133" y="302.36" width="4" height="2.2" fill="#fff"/>
<rect x="146" y="302.36" width="4" height="2.2" fill="#fff"/>
<rect x="70.7" y="234.52" width="3.6" height="2.2" fill="#fff"/>
<rect x="83" y="234.52" width="4" height="2.2" fill="#fff"/>
<rect x="91.2" y="234.52" width="4" height="2.2" fill="#fff"/>
<rect x="103.2" y="234.52" width="4" height="2.2" fill="#fff"/>
<rect x="112.3" y="234.52" width="3.7" height="2.2" fill="#fff"/>
<rect x="124.3" y="234.52" width="4" height="2.2" fill="#fff"/>
<rect x="133" y="234.52" width="4" height="2.2" fill="#fff"/>
<rect x="146" y="234.52" width="4" height="2.2" fill="#fff"/>
<rect x="70.7" y="307.02" width="3.6" height="2.2" fill="#fff"/>
<rect x="83" y="307.02" width="4" height="2.2" fill="#fff"/>
<rect x="91.2" y="307.02" width="4" height="2.2" fill="#fff"/>
<rect x="103.2" y="307.02" width="4" height="2.2" fill="#fff"/>
<rect x="112.3" y="307.02" width="3.7" height="2.2" fill="#fff"/>
<rect x="124.3" y="307.02" width="4" height="2.2" fill="#fff"/>
<rect x="133" y="307.02" width="4" height="2.2" fill="#fff"/>
<rect x="146" y="307.02" width="4" height="2.2" fill="#fff"/>
<rect x="70.7" y="239.18" width="3.6" height="2.2" fill="#fff"/>
<rect x="83" y="239.18" width="4" height="2.2" fill="#fff"/>
<rect x="91.2" y="239.18" width="4" height="2.2" fill="#fff"/>
<rect x="103.2" y="239.18" width="4" height="2.2" fill="#fff"/>
<rect x="112.3" y="239.18" width="3.7" height="2.2" fill="#fff"/>
<rect x="124.3" y="239.18" width="4" height="2.2" fill="#fff"/>
<rect x="133" y="239.18" width="4" height="2.2" fill="#fff"/>
<rect x="146" y="239.18" width="4" height="2.2" fill="#fff"/>
<rect x="70.7" y="311.68" width="3.6" height="2.2" fill="#fff"/>
<rect x="83" y="311.68" width="4" height="2.2" fill="#fff"/>
<rect x="91.2" y="311.68" width="4" height="2.2" fill="#fff"/>
<rect x="103.2" y="311.68" width="4" height="2.2" fill="#fff"/>
<rect x="112.3" y="311.68" width="3.7" height="2.2" fill="#fff"/>
<rect x="124.3" y="311.68" width="4" height="2.2" fill="#fff"/>
<rect x="133" y="311.68" width="4" height="2.2" fill="#fff"/>
<rect x="146" y="311.68" width="4" height="2.2" fill="#fff"/>
<rect x="70.7" y="243.84" width="3.6" height="2.2" fill="#fff"/>
<rect x="83" y="243.84" width="4" height="2.2" fill="#fff"/>
<rect x="91.2" y="243.84" width="4" height="2.2" fill="#fff"/>
<rect x="103.2" y="243.84" width="4" height="2.2" fill="#fff"/>
<rect x="112.3" y="243.84" width="3.7" height="2.2" fill="#fff"/>
<rect x="124.3" y="243.84" width="4" height="2.2" fill="#fff"/>
<rect x="133" y="243.84" width="4" height="2.2" fill="#fff"/>
<rect x="146" y="243.84" width="4" height="2.2" fill="#fff"/>
<rect x="70.7" y="316.34" width="3.6" height="2.2" fill="#fff"/>
<rect x="83" y="316.34" width="4" height="2.2" fill="#fff"/>
<rect x="91.2" y="316.34" width="4" height="2.2" fill="#fff"/>
<rect x="103.2" y="316.34" width="4" height="2.2" fill="#fff"/>
<rect x="112.3" y="316.34" width="3.7" height="2.2" fill="#fff"/>
<rect x="124.3" y="316.34" width="4" height="2.2" fill="#fff"/>
<rect x="133" y="316.34" width="4" height="2.2" fill="#fff"/>
<rect x="146" y="316.34" width="4" height="2.2" fill="#fff"/>
<rect x="70.7" y="248.5" width="3.6" height="2.2" fill="#fff"/>
<rect x="83" y="248.5" width="4" height="2.2" fill="#fff"/>
<rect x="91.2" y="248.5" width="4" height="2.2" fill="#fff"/>
<rect x="103.2" y="248.5" width="4" height="2.2" fill="#fff"/>
<rect x="112.3" y="248.5" width="3.7" height="2.2" fill="#fff"/>
<rect x="124.3" y="248.5" width="4" height="2.2" fill="#fff"/>
<rect x="133" y="248.5" width="4" height="2.2" fill="#fff"/>
<rect x="146" y="248.5" width="4" height="2.2" fill="#fff"/>
<rect x="70.7" y="321" width="3.6" height="2.2" fill="#fff"/>
<rect x="83" y="321" width="4" height="2.2" fill="#fff"/>
<rect x="91.2" y="321" width="4" height="2.2" fill="#fff"/>
<rect x="103.2" y="321" width="4" height="2.2" fill="#fff"/>
<rect x="112.3" y="321" width="3.7" height="2.2" fill="#fff"/>
<rect x="124.3" y="321" width="4" height="2.2" fill="#fff"/>
<rect x="133" y="321" width="4" height="2.2" fill="#fff"/>
<rect x="146" y="321" width="4" height="2.2" fill="#fff"/>
<rect x="70.7" y="253.16" width="3.6" height="2.2" fill="#fff"/>
<rect x="83" y="253.16" width="4" height="2.2" fill="#fff"/>
<rect x="91.2" y="253.16" width="4" height="2.2" fill="#fff"/>
<rect x="103.2" y="253.16" width="4" height="2.2" fill="#fff"/>
<rect x="112.3" y="253.16" width="3.7" height="2.2" fill="#fff"/>
<rect x="124.3" y="253.16" width="4" height="2.2" fill="#fff"/>
<rect x="133" y="253.16" width="4" height="2.2" fill="#fff"/>
<rect x="146" y="253.16" width="4" height="2.2" fill="#fff"/>
<rect x="70.7" y="325.66" width="3.6" height="2.2" fill="#fff"/>
<rect x="83" y="325.66" width="4" height="2.2" fill="#fff"/>
<rect x="91.2" y="325.66" width="4" height="2.2" fill="#fff"/>
<rect x="103.2" y="325.66" width="4" height="2.2" fill="#fff"/>
<rect x="112.3" y="325.66" width="3.7" height="2.2" fill="#fff"/>
<rect x="124.3" y="325.66" width="4" height="2.2" fill="#fff"/>
<rect x="133" y="325.66" width="4" height="2.2" fill="#fff"/>
<rect x="146" y="325.66" width="4" height="2.2" fill="#fff"/>
<rect x="70.7" y="257.82" width="3.6" height="2.2" fill="#fff"/>
<rect x="83" y="257.82" width="4" height="2.2" fill="#fff"/>
<rect x="91.2" y="257.82" width="4" height="2.2" fill="#fff"/>
<rect x="103.2" y="257.82" width="4" height="2.2" fill="#fff"/>
<rect x="112.3" y="257.82" width="3.7" height="2.2" fill="#fff"/>
<rect x="124.3" y="257.82" width="4" height="2.2" fill="#fff"/>
<rect x="133" y="257.82" width="4" height="2.2" fill="#fff"/>
<rect x="146" y="257.82" width="4" height="2.2" fill="#fff"/>
<rect x="70.7" y="330.32" width="3.6" height="2.2" fill="#fff"/>
<rect x="83" y="330.32" width="4" height="2.2" fill="#fff"/>
<rect x="91.2" y="330.32" width="4" height="2.2" fill="#fff"/>
<rect x="103.2" y="330.32" width="4" height="2.2" fill="#fff"/>
<rect x="112.3" y="330.32" width="3.7" height="2.2" fill="#fff"/>
<rect x="124.3" y="330.32" width="4" height="2.2" fill="#fff"/>
<rect x="133" y="330.32" width="4" height="2.2" fill="#fff"/>
<rect x="146" y="330.32" width="4" height="2.2" fill="#fff"/>
<rect x="70.7" y="262.48" width="3.6" height="2.2" fill="#fff"/>
<rect x="83" y="262.48" width="4" height="2.2" fill="#fff"/>
<rect x="91.2" y="262.48" width="4" height="2.2" fill="#fff"/>
<rect x="103.2" y="262.48" width="4" height="2.2" fill="#fff"/>
<rect x="112.3" y="262.48" width="3.7" height="2.2" fill="#fff"/>
<rect x="124.3" y="262.48" width="4" height="2.2" fill="#fff"/>
<rect x="133" y="262.48" width="4" height="2.2" fill="#fff"/>
<rect x="146" y="262.48" width="4" height="2.2" fill="#fff"/>
<rect x="70.7" y="334.98" width="3.6" height="2.2" fill="#fff"/>
<rect x="83" y="334.98" width="4" height="2.2" fill="#fff"/>
<rect x="91.2" y="334.98" width="4" height="2.2" fill="#fff"/>
<rect x="103.2" y="334.98" width="4" height="2.2" fill="#fff"/>
<rect x="112.3" y="334.98" width="3.7" height="2.2" fill="#fff"/>
<rect x="124.3" y="334.98" width="4" height="2.2" fill="#fff"/>
<rect x="133" y="334.98" width="4" height="2.2" fill="#fff"/>
<rect x="146" y="334.98" width="4" height="2.2" fill="#fff"/>
<rect x="70.7" y="267.14" width="3.6" height="2.2" fill="#fff"/>
<rect x="83" y="267.14" width="4" height="2.2" fill="#fff"/>
<rect x="91.2" y="267.14" width="4" height="2.2" fill="#fff"/>
<rect x="103.2" y="267.14" width="4" height="2.2" fill="#fff"/>
<rect x="112.3" y="267.14" width="3.7" height="2.2" fill="#fff"/>
<rect x="124.3" y="267.14" width="4" height="2.2" fill="#fff"/>
<rect x="133" y="267.14" width="4" height="2.2" fill="#fff"/>
<rect x="146" y="267.14" width="4" height="2.2" fill="#fff"/>
<rect x="70.7" y="339.64" width="3.6" height="2.2" fill="#fff"/>
<rect x="83" y="339.64" width="4" height="2.2" fill="#fff"/>
<rect x="91.2" y="339.64" width="4" height="2.2" fill="#fff"/>
<rect x="103.2" y="339.64" width="4" height="2.2" fill="#fff"/>
<rect x="112.3" y="339.64" width="3.7" height="2.2" fill="#fff"/>
<rect x="124.3" y="339.64" width="4" height="2.2" fill="#fff"/>
<rect x="133" y="339.64" width="4" height="2.2" fill="#fff"/>
<rect x="146" y="339.64" width="4" height="2.2" fill="#fff"/>
<rect x="70.7" y="271.8" width="3.6" height="2.2" fill="#fff"/>
<rect x="83" y="271.8" width="4" height="2.2" fill="#fff"/>
<rect x="91.2" y="271.8" width="4" height="2.2" fill="#fff"/>
<rect x="103.2" y="271.8" width="4" height="2.2" fill="#fff"/>
<rect x="112.3" y="271.8" width="3.7" height="2.2" fill="#fff"/>
<rect x="124.3" y="271.8" width="4" height="2.2" fill="#fff"/>
<rect x="133" y="271.8" width="4" height="2.2" fill="#fff"/>
<rect x="146" y="271.8" width="4" height="2.2" fill="#fff"/>
<rect x="70.7" y="344.3" width="3.6" height="2.2" fill="#fff"/>
<rect x="83" y="344.3" width="4" height="2.2" fill="#fff"/>
<rect x="91.2" y="344.3" width="4" height="2.2" fill="#fff"/>
<rect x="103.2" y="344.3" width="4" height="2.2" fill="#fff"/>
<rect x="112.3" y="344.3" width="3.7" height="2.2" fill="#fff"/>
<rect x="124.3" y="344.3" width="4" height="2.2" fill="#fff"/>
<rect x="133" y="344.3" width="4" height="2.2" fill="#fff"/>
<rect x="146" y="344.3" width="4" height="2.2" fill="#fff"/>
<rect x="70.7" y="276.46" width="3.6" height="2.2" fill="#fff"/>
<rect x="83" y="276.46" width="4" height="2.2" fill="#fff"/>
<rect x="91.2" y="276.46" width="4" height="2.2" fill="#fff"/>
<rect x="103.2" y="276.46" width="4" height="2.2" fill="#fff"/>
<rect x="112.3" y="276.46" width="3.7" height="2.2" fill="#fff"/>
<rect x="124.3" y="276.46" width="4" height="2.2" fill="#fff"/>
<rect x="133" y="276.46" width="4" height="2.2" fill="#fff"/>
<rect x="146" y="276.46" width="4" height="2.2" fill="#fff"/>
<rect x="70.7" y="348.96" width="3.6" height="2.2" fill="#fff"/>
<rect x="83" y="348.96" width="4" height="2.2" fill="#fff"/>
<rect x="91.2" y="348.96" width="4" height="2.2" fill="#fff"/>
<rect x="103.2" y="348.96" width="4" height="2.2" fill="#fff"/>
<rect x="112.3" y="348.96" width="3.7" height="2.2" fill="#fff"/>
<rect x="124.3" y="348.96" width="4" height="2.2" fill="#fff"/>
<rect x="133" y="348.96" width="4" height="2.2" fill="#fff"/>
<rect x="146" y="348.96" width="4" height="2.2" fill="#fff"/>
<rect x="70.7" y="281.12" width="3.6" height="2.2" fill="#fff"/>
<rect x="83" y="281.12" width="4" height="2.2" fill="#fff"/>
<rect x="91.2" y="281.12" width="4" height="2.2" fill="#fff"/>
<rect x="103.2" y="281.12" width="4" height="2.2" fill="#fff"/>
<rect x="112.3" y="281.12" width="3.7" height="2.2" fill="#fff"/>
<rect x="124.3" y="281.12" width="4" height="2.2" fill="#fff"/>
<rect x="133" y="281.12" width="4" height="2.2" fill="#fff"/>
<rect x="146" y="281.12" width="4" height="2.2" fill="#fff"/>
<rect x="70.7" y="353.62" width="3.6" height="2.2" fill="#fff"/>
<rect x="83" y="353.62" width="4" height="2.2" fill="#fff"/>
<rect x="91.2" y="353.62" width="4" height="2.2" fill="#fff"/>
<rect x="103.2" y="353.62" width="4" height="2.2" fill="#fff"/>
<rect x="112.3" y="353.62" width="3.7" height="2.2" fill="#fff"/>
<rect x="124.3" y="353.62" width="4" height="2.2" fill="#fff"/>
<rect x="133" y="353.62" width="4" height="2.2" fill="#fff"/>
<rect x="146" y="353.62" width="4" height="2.2" fill="#fff"/>
<rect x="70.7" y="285.78" width="3.6" height="2.2" fill="#fff"/>
<rect x="83" y="285.78" width="4" height="2.2" fill="#fff"/>
<rect x="91.2" y="285.78" width="4" height="2.2" fill="#fff"/>
<rect x="103.2" y="285.78" width="4" height="2.2" fill="#fff"/>
<rect x="112.3" y="285.78" width="3.7" height="2.2" fill="#fff"/>
<rect x="124.3" y="285.78" width="4" height="2.2" fill="#fff"/>
<rect x="133" y="285.78" width="4" height="2.2" fill="#fff"/>
<rect x="146" y="285.78" width="4" height="2.2" fill="#fff"/>
<rect x="70.7" y="358.28" width="3.6" height="2.2" fill="#fff"/>
<rect x="83" y="358.28" width="4" height="2.2" fill="#fff"/>
<rect x="91.2" y="358.28" width="4" height="2.2" fill="#fff"/>
<rect x="103.2" y="358.28" width="4" height="2.2" fill="#fff"/>
<rect x="112.3" y="358.28" width="3.7" height="2.2" fill="#fff"/>
<rect x="124.3" y="358.28" width="4" height="2.2" fill="#fff"/>
<rect x="133" y="358.28" width="4" height="2.2" fill="#fff"/>
<rect x="146" y="358.28" width="4" height="2.2" fill="#fff"/>
<polygon points="77,291.6 79,288.8 81,291.6" fill="#fff"/>
<polygon points="139.4,291.6 141.4,288.8 143.4,291.6" fill="#fff"/>
<line x1="65.5" y1="227" x2="65.5" y2="287" stroke="#000" stroke-width="1"/>
<line x1="65.5" y1="227.5" x2="69.5" y2="223.5" stroke="#000" stroke-width="1"/>
<line x1="65.5" y1="286.5" x2="61.5" y2="293.5" stroke="#000" stroke-width="1.2" shape-rendering="geometricPrecision"/>
<line x1="61.5" y1="293.5" x2="65.5" y2="300.5" stroke="#000" stroke-width="1.2" shape-rendering="geometricPrecision"/>
<line x1="65.5" y1="300" x2="65.5" y2="358" stroke="#000" stroke-width="1"/>
<line x1="65.5" y1="358" x2="70" y2="363.5" stroke="#000" stroke-width="1.2" shape-rendering="geometricPrecision"/>
<rect x="21.1" y="286.3" width="39.7" height="14.5" rx="2.5" fill="#000" shape-rendering="geometricPrecision"/>
<rect x="22.7" y="288" width="36.1" height="10.5" rx="1.2" fill="#fff" shape-rendering="geometricPrecision"/>
<text x="40.75" y="295.9" font-size="10.5" text-anchor="middle" fill="#000" textLength="34.4" lengthAdjust="spacingAndGlyphs">CACHE</text>
<rect x="87.5" y="287.4" width="43.1" height="11.8" fill="#000"/>
<rect x="88.5" y="288.4" width="41.1" height="9.8" fill="#fff"/>
<text x="109" y="297.4" font-size="11" text-anchor="middle" fill="#000">BANK 0</text>
<polygon points="279,157 326.3,157 329.3,160 329.3,206.7 326.3,209.7 279,209.7 276,206.7 276,160" fill="#000"/>
<rect x="284.883" y="157" width="1.1" height="2.6" fill="#fff"/>
<rect x="284.883" y="207.1" width="1.1" height="2.6" fill="#fff"/>
<rect x="293.767" y="157" width="1.1" height="2.6" fill="#fff"/>
<rect x="293.767" y="207.1" width="1.1" height="2.6" fill="#fff"/>
<rect x="302.65" y="157" width="1.1" height="2.6" fill="#fff"/>
<rect x="302.65" y="207.1" width="1.1" height="2.6" fill="#fff"/>
<rect x="311.533" y="157" width="1.1" height="2.6" fill="#fff"/>
<rect x="311.533" y="207.1" width="1.1" height="2.6" fill="#fff"/>
<rect x="320.417" y="157" width="1.1" height="2.6" fill="#fff"/>
<rect x="320.417" y="207.1" width="1.1" height="2.6" fill="#fff"/>
<rect x="276" y="165.783" width="2.6" height="1.1" fill="#fff"/>
<rect x="326.7" y="165.783" width="2.6" height="1.1" fill="#fff"/>
<rect x="276" y="174.567" width="2.6" height="1.1" fill="#fff"/>
<rect x="326.7" y="174.567" width="2.6" height="1.1" fill="#fff"/>
<rect x="276" y="183.35" width="2.6" height="1.1" fill="#fff"/>
<rect x="326.7" y="183.35" width="2.6" height="1.1" fill="#fff"/>
<rect x="276" y="192.133" width="2.6" height="1.1" fill="#fff"/>
<rect x="326.7" y="192.133" width="2.6" height="1.1" fill="#fff"/>
<rect x="276" y="200.917" width="2.6" height="1.1" fill="#fff"/>
<rect x="326.7" y="200.917" width="2.6" height="1.1" fill="#fff"/>
<polygon points="222,221 269.3,221 272.3,224 272.3,271.3 269.3,274.3 222,274.3 219,271.3 219,224" fill="#000"/>
<rect x="227.883" y="221" width="1.1" height="2.6" fill="#fff"/>
<rect x="227.883" y="271.7" width="1.1" height="2.6" fill="#fff"/>
<rect x="236.767" y="221" width="1.1" height="2.6" fill="#fff"/>
<rect x="236.767" y="271.7" width="1.1" height="2.6" fill="#fff"/>
<rect x="245.65" y="221" width="1.1" height="2.6" fill="#fff"/>
<rect x="245.65" y="271.7" width="1.1" height="2.6" fill="#fff"/>
<rect x="254.533" y="221" width="1.1" height="2.6" fill="#fff"/>
<rect x="254.533" y="271.7" width="1.1" height="2.6" fill="#fff"/>
<rect x="263.417" y="221" width="1.1" height="2.6" fill="#fff"/>
<rect x="263.417" y="271.7" width="1.1" height="2.6" fill="#fff"/>
<rect x="219" y="229.883" width="2.6" height="1.1" fill="#fff"/>
<rect x="269.7" y="229.883" width="2.6" height="1.1" fill="#fff"/>
<rect x="219" y="238.767" width="2.6" height="1.1" fill="#fff"/>
<rect x="269.7" y="238.767" width="2.6" height="1.1" fill="#fff"/>
<rect x="219" y="247.65" width="2.6" height="1.1" fill="#fff"/>
<rect x="269.7" y="247.65" width="2.6" height="1.1" fill="#fff"/>
<rect x="219" y="256.533" width="2.6" height="1.1" fill="#fff"/>
<rect x="269.7" y="256.533" width="2.6" height="1.1" fill="#fff"/>
<rect x="219" y="265.417" width="2.6" height="1.1" fill="#fff"/>
<rect x="269.7" y="265.417" width="2.6" height="1.1" fill="#fff"/>
<polygon points="298,229.8 345,229.8 348,232.8 348,261.8 345,264.8 298,264.8 295,261.8 295,232.8" fill="#000"/>
<rect x="303.833" y="229.8" width="1.1" height="2.6" fill="#fff"/>
<rect x="303.833" y="262.2" width="1.1" height="2.6" fill="#fff"/>
<rect x="312.667" y="229.8" width="1.1" height="2.6" fill="#fff"/>
<rect x="312.667" y="262.2" width="1.1" height="2.6" fill="#fff"/>
<rect x="321.5" y="229.8" width="1.1" height="2.6" fill="#fff"/>
<rect x="321.5" y="262.2" width="1.1" height="2.6" fill="#fff"/>
<rect x="330.333" y="229.8" width="1.1" height="2.6" fill="#fff"/>
<rect x="330.333" y="262.2" width="1.1" height="2.6" fill="#fff"/>
<rect x="339.167" y="229.8" width="1.1" height="2.6" fill="#fff"/>
<rect x="339.167" y="262.2" width="1.1" height="2.6" fill="#fff"/>
<rect x="295" y="238.55" width="2.6" height="1.1" fill="#fff"/>
<rect x="345.4" y="238.55" width="2.6" height="1.1" fill="#fff"/>
<rect x="295" y="247.3" width="2.6" height="1.1" fill="#fff"/>
<rect x="345.4" y="247.3" width="2.6" height="1.1" fill="#fff"/>
<rect x="295" y="256.05" width="2.6" height="1.1" fill="#fff"/>
<rect x="345.4" y="256.05" width="2.6" height="1.1" fill="#fff"/>
<polygon points="171,337.2 218,337.2 221,340.2 221,386.2 218,389.2 171,389.2 168,386.2 168,340.2" fill="#000"/>
<rect x="176.833" y="337.2" width="1.1" height="2.6" fill="#fff"/>
<rect x="176.833" y="386.6" width="1.1" height="2.6" fill="#fff"/>
<rect x="185.667" y="337.2" width="1.1" height="2.6" fill="#fff"/>
<rect x="185.667" y="386.6" width="1.1" height="2.6" fill="#fff"/>
<rect x="194.5" y="337.2" width="1.1" height="2.6" fill="#fff"/>
<rect x="194.5" y="386.6" width="1.1" height="2.6" fill="#fff"/>
<rect x="203.333" y="337.2" width="1.1" height="2.6" fill="#fff"/>
<rect x="203.333" y="386.6" width="1.1" height="2.6" fill="#fff"/>
<rect x="212.167" y="337.2" width="1.1" height="2.6" fill="#fff"/>
<rect x="212.167" y="386.6" width="1.1" height="2.6" fill="#fff"/>
<rect x="168" y="345.867" width="2.6" height="1.1" fill="#fff"/>
<rect x="218.4" y="345.867" width="2.6" height="1.1" fill="#fff"/>
<rect x="168" y="354.533" width="2.6" height="1.1" fill="#fff"/>
<rect x="218.4" y="354.533" width="2.6" height="1.1" fill="#fff"/>
<rect x="168" y="363.2" width="2.6" height="1.1" fill="#fff"/>
<rect x="218.4" y="363.2" width="2.6" height="1.1" fill="#fff"/>
<rect x="168" y="371.867" width="2.6" height="1.1" fill="#fff"/>
<rect x="218.4" y="371.867" width="2.6" height="1.1" fill="#fff"/>
<rect x="168" y="380.533" width="2.6" height="1.1" fill="#fff"/>
<rect x="218.4" y="380.533" width="2.6" height="1.1" fill="#fff"/>
<polygon points="503,291 550,291 553,294 553,322.8 550,325.8 503,325.8 500,322.8 500,294" fill="#000"/>
<rect x="508.833" y="291" width="1.1" height="2.6" fill="#fff"/>
<rect x="508.833" y="323.2" width="1.1" height="2.6" fill="#fff"/>
<rect x="517.667" y="291" width="1.1" height="2.6" fill="#fff"/>
<rect x="517.667" y="323.2" width="1.1" height="2.6" fill="#fff"/>
<rect x="526.5" y="291" width="1.1" height="2.6" fill="#fff"/>
<rect x="526.5" y="323.2" width="1.1" height="2.6" fill="#fff"/>
<rect x="535.333" y="291" width="1.1" height="2.6" fill="#fff"/>
<rect x="535.333" y="323.2" width="1.1" height="2.6" fill="#fff"/>
<rect x="544.167" y="291" width="1.1" height="2.6" fill="#fff"/>
<rect x="544.167" y="323.2" width="1.1" height="2.6" fill="#fff"/>
<rect x="500" y="299.7" width="2.6" height="1.1" fill="#fff"/>
<rect x="550.4" y="299.7" width="2.6" height="1.1" fill="#fff"/>
<rect x="500" y="308.4" width="2.6" height="1.1" fill="#fff"/>
<rect x="550.4" y="308.4" width="2.6" height="1.1" fill="#fff"/>
<rect x="500" y="317.1" width="2.6" height="1.1" fill="#fff"/>
<rect x="550.4" y="317.1" width="2.6" height="1.1" fill="#fff"/>
<rect x="265" y="294" width="222" height="12.8" fill="#000"/>
<rect x="266" y="294.9" width="5" height="2.3" fill="#fff"/>
<rect x="266" y="298.3" width="5" height="3.5" fill="#fff"/>
<rect x="266" y="303" width="5" height="2.7" fill="#fff"/>
<rect x="481.2" y="294.9" width="4.8" height="2.3" fill="#fff"/>
<rect x="481.2" y="298.3" width="4.8" height="3.5" fill="#fff"/>
<rect x="481.2" y="303" width="4.8" height="2.7" fill="#fff"/>
<rect x="272.2" y="294.9" width="207.8" height="1" fill="#fff"/>
<rect x="275" y="297.5" width="7.5" height="4.5" fill="#fff"/>
<rect x="275" y="302" width="5" height="2.6" fill="#fff"/>
<rect x="276.6" y="302" width="3" height="1.3" fill="#000"/>
<rect x="281" y="302" width="2.7" height="3.8" fill="#fff"/>
<rect x="470" y="297.5" width="9.6" height="6.1" fill="#fff"/>
<rect x="468.5" y="303" width="4.5" height="3" fill="#fff"/>
<rect x="471.3" y="298.8" width="6.9" height="3.5" fill="#000"/>
<rect x="473.6" y="301" width="2.6" height="1.3" fill="#fff"/>
<rect x="474.5" y="303.6" width="3.5" height="1.4" fill="#000"/>
<rect x="284.2" y="297.4" width="1" height="3.6" fill="#fff"/>
<rect x="286.1" y="297.4" width="1" height="3.6" fill="#fff"/>
<rect x="288" y="297.4" width="1" height="3.6" fill="#fff"/>
<rect x="289.9" y="297.4" width="1" height="3.6" fill="#fff"/>
<rect x="300.8" y="297.4" width="1" height="3.6" fill="#fff"/>
<rect x="302.7" y="297.4" width="1" height="3.6" fill="#fff"/>
<rect x="304.6" y="297.4" width="1" height="3.6" fill="#fff"/>
<rect x="306.5" y="297.4" width="1" height="3.6" fill="#fff"/>
<rect x="315.8" y="297.4" width="1" height="3.6" fill="#fff"/>
<rect x="317.7" y="297.4" width="1" height="3.6" fill="#fff"/>
<rect x="319.6" y="297.4" width="1" height="3.6" fill="#fff"/>
<rect x="321.5" y="297.4" width="1" height="3.6" fill="#fff"/>
<rect x="329.1" y="297.4" width="1" height="3.6" fill="#fff"/>
<rect x="331" y="297.4" width="1" height="3.6" fill="#fff"/>
<rect x="332.9" y="297.4" width="1" height="3.6" fill="#fff"/>
<rect x="334.8" y="297.4" width="1" height="3.6" fill="#fff"/>
<rect x="336.7" y="297.4" width="1" height="3.6" fill="#fff"/>
<rect x="346" y="297.4" width="1" height="3.6" fill="#fff"/>
<rect x="347.9" y="297.4" width="1" height="3.6" fill="#fff"/>
<rect x="349.8" y="297.4" width="1" height="3.6" fill="#fff"/>
<rect x="351.7" y="297.4" width="1" height="3.6" fill="#fff"/>
<rect x="361.3" y="297.4" width="1" height="3.6" fill="#fff"/>
<rect x="363.2" y="297.4" width="1" height="3.6" fill="#fff"/>
<rect x="365.1" y="297.4" width="1" height="3.6" fill="#fff"/>
<rect x="367" y="297.4" width="1" height="3.6" fill="#fff"/>
<rect x="380.4" y="297.4" width="1" height="3.6" fill="#fff"/>
<rect x="382.3" y="297.4" width="1" height="3.6" fill="#fff"/>
<rect x="384.2" y="297.4" width="1" height="3.6" fill="#fff"/>
<rect x="386.1" y="297.4" width="1" height="3.6" fill="#fff"/>
<rect x="388" y="297.4" width="1" height="3.6" fill="#fff"/>
<rect x="397.4" y="297.4" width="1" height="3.6" fill="#fff"/>
<rect x="399.3" y="297.4" width="1" height="3.6" fill="#fff"/>
<rect x="401.2" y="297.4" width="1" height="3.6" fill="#fff"/>
<rect x="403.1" y="297.4" width="1" height="3.6" fill="#fff"/>
<rect x="414" y="297.4" width="1" height="3.6" fill="#fff"/>
<rect x="415.9" y="297.4" width="1" height="3.6" fill="#fff"/>
<rect x="417.8" y="297.4" width="1" height="3.6" fill="#fff"/>
<rect x="424.6" y="297.4" width="1" height="3.6" fill="#fff"/>
<rect x="426.5" y="297.4" width="1" height="3.6" fill="#fff"/>
<rect x="428.4" y="297.4" width="1" height="3.6" fill="#fff"/>
<rect x="430.3" y="297.4" width="1" height="3.6" fill="#fff"/>
<rect x="432.2" y="297.4" width="1" height="3.6" fill="#fff"/>
<rect x="434.1" y="297.4" width="1" height="3.6" fill="#fff"/>
<rect x="441.8" y="297.4" width="1" height="3.6" fill="#fff"/>
<rect x="443.7" y="297.4" width="1" height="3.6" fill="#fff"/>
<rect x="445.6" y="297.4" width="1" height="3.6" fill="#fff"/>
<rect x="447.5" y="297.4" width="1" height="3.6" fill="#fff"/>
<rect x="456.8" y="297.4" width="1" height="3.6" fill="#fff"/>
<rect x="458.7" y="297.4" width="1" height="3.6" fill="#fff"/>
<rect x="460.6" y="297.4" width="1" height="3.6" fill="#fff"/>
<rect x="462.5" y="297.4" width="1" height="3.6" fill="#fff"/>
<rect x="265" y="307.8" width="222" height="12.8" fill="#000"/>
<rect x="266" y="308.7" width="5" height="2.3" fill="#fff"/>
<rect x="266" y="312.1" width="5" height="3.5" fill="#fff"/>
<rect x="266" y="316.8" width="5" height="2.7" fill="#fff"/>
<rect x="481.2" y="308.7" width="4.8" height="2.3" fill="#fff"/>
<rect x="481.2" y="312.1" width="4.8" height="3.5" fill="#fff"/>
<rect x="481.2" y="316.8" width="4.8" height="2.7" fill="#fff"/>
<rect x="272.2" y="308.7" width="207.8" height="1" fill="#fff"/>
<rect x="275" y="311.3" width="7.5" height="4.5" fill="#fff"/>
<rect x="275" y="315.8" width="5" height="2.6" fill="#fff"/>
<rect x="276.6" y="315.8" width="3" height="1.3" fill="#000"/>
<rect x="281" y="315.8" width="2.7" height="3.8" fill="#fff"/>
<rect x="470" y="311.3" width="9.6" height="6.1" fill="#fff"/>
<rect x="468.5" y="316.8" width="4.5" height="3" fill="#fff"/>
<rect x="471.3" y="312.6" width="6.9" height="3.5" fill="#000"/>
<rect x="473.6" y="314.8" width="2.6" height="1.3" fill="#fff"/>
<rect x="474.5" y="317.4" width="3.5" height="1.4" fill="#000"/>
<rect x="284.2" y="311.2" width="1" height="3.6" fill="#fff"/>
<rect x="286.1" y="311.2" width="1" height="3.6" fill="#fff"/>
<rect x="288" y="311.2" width="1" height="3.6" fill="#fff"/>
<rect x="289.9" y="311.2" width="1" height="3.6" fill="#fff"/>
<rect x="300.8" y="311.2" width="1" height="3.6" fill="#fff"/>
<rect x="302.7" y="311.2" width="1" height="3.6" fill="#fff"/>
<rect x="304.6" y="311.2" width="1" height="3.6" fill="#fff"/>
<rect x="306.5" y="311.2" width="1" height="3.6" fill="#fff"/>
<rect x="315.8" y="311.2" width="1" height="3.6" fill="#fff"/>
<rect x="317.7" y="311.2" width="1" height="3.6" fill="#fff"/>
<rect x="319.6" y="311.2" width="1" height="3.6" fill="#fff"/>
<rect x="321.5" y="311.2" width="1" height="3.6" fill="#fff"/>
<rect x="329.1" y="311.2" width="1" height="3.6" fill="#fff"/>
<rect x="331" y="311.2" width="1" height="3.6" fill="#fff"/>
<rect x="332.9" y="311.2" width="1" height="3.6" fill="#fff"/>
<rect x="334.8" y="311.2" width="1" height="3.6" fill="#fff"/>
<rect x="336.7" y="311.2" width="1" height="3.6" fill="#fff"/>
<rect x="346" y="311.2" width="1" height="3.6" fill="#fff"/>
<rect x="347.9" y="311.2" width="1" height="3.6" fill="#fff"/>
<rect x="349.8" y="311.2" width="1" height="3.6" fill="#fff"/>
<rect x="351.7" y="311.2" width="1" height="3.6" fill="#fff"/>
<rect x="361.3" y="311.2" width="1" height="3.6" fill="#fff"/>
<rect x="363.2" y="311.2" width="1" height="3.6" fill="#fff"/>
<rect x="365.1" y="311.2" width="1" height="3.6" fill="#fff"/>
<rect x="367" y="311.2" width="1" height="3.6" fill="#fff"/>
<rect x="380.4" y="311.2" width="1" height="3.6" fill="#fff"/>
<rect x="382.3" y="311.2" width="1" height="3.6" fill="#fff"/>
<rect x="384.2" y="311.2" width="1" height="3.6" fill="#fff"/>
<rect x="386.1" y="311.2" width="1" height="3.6" fill="#fff"/>
<rect x="388" y="311.2" width="1" height="3.6" fill="#fff"/>
<rect x="397.4" y="311.2" width="1" height="3.6" fill="#fff"/>
<rect x="399.3" y="311.2" width="1" height="3.6" fill="#fff"/>
<rect x="401.2" y="311.2" width="1" height="3.6" fill="#fff"/>
<rect x="403.1" y="311.2" width="1" height="3.6" fill="#fff"/>
<rect x="414" y="311.2" width="1" height="3.6" fill="#fff"/>
<rect x="415.9" y="311.2" width="1" height="3.6" fill="#fff"/>
<rect x="417.8" y="311.2" width="1" height="3.6" fill="#fff"/>
<rect x="424.6" y="311.2" width="1" height="3.6" fill="#fff"/>
<rect x="426.5" y="311.2" width="1" height="3.6" fill="#fff"/>
<rect x="428.4" y="311.2" width="1" height="3.6" fill="#fff"/>
<rect x="430.3" y="311.2" width="1" height="3.6" fill="#fff"/>
<rect x="432.2" y="311.2" width="1" height="3.6" fill="#fff"/>
<rect x="434.1" y="311.2" width="1" height="3.6" fill="#fff"/>
<rect x="441.8" y="311.2" width="1" height="3.6" fill="#fff"/>
<rect x="443.7" y="311.2" width="1" height="3.6" fill="#fff"/>
<rect x="445.6" y="311.2" width="1" height="3.6" fill="#fff"/>
<rect x="447.5" y="311.2" width="1" height="3.6" fill="#fff"/>
<rect x="456.8" y="311.2" width="1" height="3.6" fill="#fff"/>
<rect x="458.7" y="311.2" width="1" height="3.6" fill="#fff"/>
<rect x="460.6" y="311.2" width="1" height="3.6" fill="#fff"/>
<rect x="462.5" y="311.2" width="1" height="3.6" fill="#fff"/>
<rect x="283.8" y="318.3" width="184.7" height="1" fill="#fff"/>
<rect x="265" y="321.5" width="222" height="12.8" fill="#000"/>
<rect x="266" y="322.4" width="5" height="2.3" fill="#fff"/>
<rect x="266" y="325.8" width="5" height="3.5" fill="#fff"/>
<rect x="266" y="330.5" width="5" height="2.7" fill="#fff"/>
<rect x="481.2" y="322.4" width="4.8" height="2.3" fill="#fff"/>
<rect x="481.2" y="325.8" width="4.8" height="3.5" fill="#fff"/>
<rect x="481.2" y="330.5" width="4.8" height="2.7" fill="#fff"/>
<rect x="272.2" y="322.4" width="207.8" height="1" fill="#fff"/>
<rect x="275" y="325" width="7.5" height="4.5" fill="#fff"/>
<rect x="275" y="329.5" width="5" height="2.6" fill="#fff"/>
<rect x="276.6" y="329.5" width="3" height="1.3" fill="#000"/>
<rect x="281" y="329.5" width="2.7" height="3.8" fill="#fff"/>
<rect x="470" y="325" width="9.6" height="6.1" fill="#fff"/>
<rect x="468.5" y="330.5" width="4.5" height="3" fill="#fff"/>
<rect x="471.3" y="326.3" width="6.9" height="3.5" fill="#000"/>
<rect x="473.6" y="328.5" width="2.6" height="1.3" fill="#fff"/>
<rect x="474.5" y="331.1" width="3.5" height="1.4" fill="#000"/>
<rect x="284.2" y="324.9" width="1" height="3.6" fill="#fff"/>
<rect x="286.1" y="324.9" width="1" height="3.6" fill="#fff"/>
<rect x="288" y="324.9" width="1" height="3.6" fill="#fff"/>
<rect x="289.9" y="324.9" width="1" height="3.6" fill="#fff"/>
<rect x="300.8" y="324.9" width="1" height="3.6" fill="#fff"/>
<rect x="302.7" y="324.9" width="1" height="3.6" fill="#fff"/>
<rect x="304.6" y="324.9" width="1" height="3.6" fill="#fff"/>
<rect x="306.5" y="324.9" width="1" height="3.6" fill="#fff"/>
<rect x="315.8" y="324.9" width="1" height="3.6" fill="#fff"/>
<rect x="317.7" y="324.9" width="1" height="3.6" fill="#fff"/>
<rect x="319.6" y="324.9" width="1" height="3.6" fill="#fff"/>
<rect x="321.5" y="324.9" width="1" height="3.6" fill="#fff"/>
<rect x="329.1" y="324.9" width="1" height="3.6" fill="#fff"/>
<rect x="331" y="324.9" width="1" height="3.6" fill="#fff"/>
<rect x="332.9" y="324.9" width="1" height="3.6" fill="#fff"/>
<rect x="334.8" y="324.9" width="1" height="3.6" fill="#fff"/>
<rect x="336.7" y="324.9" width="1" height="3.6" fill="#fff"/>
<rect x="346" y="324.9" width="1" height="3.6" fill="#fff"/>
<rect x="347.9" y="324.9" width="1" height="3.6" fill="#fff"/>
<rect x="349.8" y="324.9" width="1" height="3.6" fill="#fff"/>
<rect x="351.7" y="324.9" width="1" height="3.6" fill="#fff"/>
<rect x="361.3" y="324.9" width="1" height="3.6" fill="#fff"/>
<rect x="363.2" y="324.9" width="1" height="3.6" fill="#fff"/>
<rect x="365.1" y="324.9" width="1" height="3.6" fill="#fff"/>
<rect x="367" y="324.9" width="1" height="3.6" fill="#fff"/>
<rect x="380.4" y="324.9" width="1" height="3.6" fill="#fff"/>
<rect x="382.3" y="324.9" width="1" height="3.6" fill="#fff"/>
<rect x="384.2" y="324.9" width="1" height="3.6" fill="#fff"/>
<rect x="386.1" y="324.9" width="1" height="3.6" fill="#fff"/>
<rect x="388" y="324.9" width="1" height="3.6" fill="#fff"/>
<rect x="397.4" y="324.9" width="1" height="3.6" fill="#fff"/>
<rect x="399.3" y="324.9" width="1" height="3.6" fill="#fff"/>
<rect x="401.2" y="324.9" width="1" height="3.6" fill="#fff"/>
<rect x="403.1" y="324.9" width="1" height="3.6" fill="#fff"/>
<rect x="414" y="324.9" width="1" height="3.6" fill="#fff"/>
<rect x="415.9" y="324.9" width="1" height="3.6" fill="#fff"/>
<rect x="417.8" y="324.9" width="1" height="3.6" fill="#fff"/>
<rect x="424.6" y="324.9" width="1" height="3.6" fill="#fff"/>
<rect x="426.5" y="324.9" width="1" height="3.6" fill="#fff"/>
<rect x="428.4" y="324.9" width="1" height="3.6" fill="#fff"/>
<rect x="430.3" y="324.9" width="1" height="3.6" fill="#fff"/>
<rect x="432.2" y="324.9" width="1" height="3.6" fill="#fff"/>
<rect x="434.1" y="324.9" width="1" height="3.6" fill="#fff"/>
<rect x="441.8" y="324.9" width="1" height="3.6" fill="#fff"/>
<rect x="443.7" y="324.9" width="1" height="3.6" fill="#fff"/>
<rect x="445.6" y="324.9" width="1" height="3.6" fill="#fff"/>
<rect x="447.5" y="324.9" width="1" height="3.6" fill="#fff"/>
<rect x="456.8" y="324.9" width="1" height="3.6" fill="#fff"/>
<rect x="458.7" y="324.9" width="1" height="3.6" fill="#fff"/>
<rect x="460.6" y="324.9" width="1" height="3.6" fill="#fff"/>
<rect x="462.5" y="324.9" width="1" height="3.6" fill="#fff"/>
<rect x="265" y="335.1" width="222" height="12.8" fill="#000"/>
<rect x="266" y="336" width="5" height="2.3" fill="#fff"/>
<rect x="266" y="339.4" width="5" height="3.5" fill="#fff"/>
<rect x="266" y="344.1" width="5" height="2.7" fill="#fff"/>
<rect x="481.2" y="336" width="4.8" height="2.3" fill="#fff"/>
<rect x="481.2" y="339.4" width="4.8" height="3.5" fill="#fff"/>
<rect x="481.2" y="344.1" width="4.8" height="2.7" fill="#fff"/>
<rect x="272.2" y="336" width="207.8" height="1" fill="#fff"/>
<rect x="275" y="338.6" width="7.5" height="4.5" fill="#fff"/>
<rect x="275" y="343.1" width="5" height="2.6" fill="#fff"/>
<rect x="276.6" y="343.1" width="3" height="1.3" fill="#000"/>
<rect x="281" y="343.1" width="2.7" height="3.8" fill="#fff"/>
<rect x="470" y="338.6" width="9.6" height="6.1" fill="#fff"/>
<rect x="468.5" y="344.1" width="4.5" height="3" fill="#fff"/>
<rect x="471.3" y="339.9" width="6.9" height="3.5" fill="#000"/>
<rect x="473.6" y="342.1" width="2.6" height="1.3" fill="#fff"/>
<rect x="474.5" y="344.7" width="3.5" height="1.4" fill="#000"/>
<rect x="284.2" y="338.5" width="1" height="3.6" fill="#fff"/>
<rect x="286.1" y="338.5" width="1" height="3.6" fill="#fff"/>
<rect x="288" y="338.5" width="1" height="3.6" fill="#fff"/>
<rect x="289.9" y="338.5" width="1" height="3.6" fill="#fff"/>
<rect x="300.8" y="338.5" width="1" height="3.6" fill="#fff"/>
<rect x="302.7" y="338.5" width="1" height="3.6" fill="#fff"/>
<rect x="304.6" y="338.5" width="1" height="3.6" fill="#fff"/>
<rect x="306.5" y="338.5" width="1" height="3.6" fill="#fff"/>
<rect x="315.8" y="338.5" width="1" height="3.6" fill="#fff"/>
<rect x="317.7" y="338.5" width="1" height="3.6" fill="#fff"/>
<rect x="319.6" y="338.5" width="1" height="3.6" fill="#fff"/>
<rect x="321.5" y="338.5" width="1" height="3.6" fill="#fff"/>
<rect x="329.1" y="338.5" width="1" height="3.6" fill="#fff"/>
<rect x="331" y="338.5" width="1" height="3.6" fill="#fff"/>
<rect x="332.9" y="338.5" width="1" height="3.6" fill="#fff"/>
<rect x="334.8" y="338.5" width="1" height="3.6" fill="#fff"/>
<rect x="336.7" y="338.5" width="1" height="3.6" fill="#fff"/>
<rect x="346" y="338.5" width="1" height="3.6" fill="#fff"/>
<rect x="347.9" y="338.5" width="1" height="3.6" fill="#fff"/>
<rect x="349.8" y="338.5" width="1" height="3.6" fill="#fff"/>
<rect x="351.7" y="338.5" width="1" height="3.6" fill="#fff"/>
<rect x="361.3" y="338.5" width="1" height="3.6" fill="#fff"/>
<rect x="363.2" y="338.5" width="1" height="3.6" fill="#fff"/>
<rect x="365.1" y="338.5" width="1" height="3.6" fill="#fff"/>
<rect x="367" y="338.5" width="1" height="3.6" fill="#fff"/>
<rect x="380.4" y="338.5" width="1" height="3.6" fill="#fff"/>
<rect x="382.3" y="338.5" width="1" height="3.6" fill="#fff"/>
<rect x="384.2" y="338.5" width="1" height="3.6" fill="#fff"/>
<rect x="386.1" y="338.5" width="1" height="3.6" fill="#fff"/>
<rect x="388" y="338.5" width="1" height="3.6" fill="#fff"/>
<rect x="397.4" y="338.5" width="1" height="3.6" fill="#fff"/>
<rect x="399.3" y="338.5" width="1" height="3.6" fill="#fff"/>
<rect x="401.2" y="338.5" width="1" height="3.6" fill="#fff"/>
<rect x="403.1" y="338.5" width="1" height="3.6" fill="#fff"/>
<rect x="414" y="338.5" width="1" height="3.6" fill="#fff"/>
<rect x="415.9" y="338.5" width="1" height="3.6" fill="#fff"/>
<rect x="417.8" y="338.5" width="1" height="3.6" fill="#fff"/>
<rect x="424.6" y="338.5" width="1" height="3.6" fill="#fff"/>
<rect x="426.5" y="338.5" width="1" height="3.6" fill="#fff"/>
<rect x="428.4" y="338.5" width="1" height="3.6" fill="#fff"/>
<rect x="430.3" y="338.5" width="1" height="3.6" fill="#fff"/>
<rect x="432.2" y="338.5" width="1" height="3.6" fill="#fff"/>
<rect x="434.1" y="338.5" width="1" height="3.6" fill="#fff"/>
<rect x="441.8" y="338.5" width="1" height="3.6" fill="#fff"/>
<rect x="443.7" y="338.5" width="1" height="3.6" fill="#fff"/>
<rect x="445.6" y="338.5" width="1" height="3.6" fill="#fff"/>
<rect x="447.5" y="338.5" width="1" height="3.6" fill="#fff"/>
<rect x="456.8" y="338.5" width="1" height="3.6" fill="#fff"/>
<rect x="458.7" y="338.5" width="1" height="3.6" fill="#fff"/>
<rect x="460.6" y="338.5" width="1" height="3.6" fill="#fff"/>
<rect x="462.5" y="338.5" width="1" height="3.6" fill="#fff"/>
<rect x="283.8" y="345.6" width="184.7" height="1" fill="#fff"/>
<rect x="373" y="296.8" width="6.6" height="3" fill="#fff"/>
<rect x="373" y="315.2" width="6.6" height="4.4" fill="#fff"/>
<rect x="373" y="323.2" width="6.6" height="3.3" fill="#fff"/>
<rect x="373" y="342.3" width="6.6" height="3.7" fill="#fff"/>
<rect x="354" y="301.5" width="44.4" height="11.6" fill="#fff"/>
<text x="376.3" y="310.8" font-size="10.5" text-anchor="middle" fill="#000" textLength="38.9" lengthAdjust="spacingAndGlyphs">BANK 0</text>
<rect x="354" y="329.3" width="44.4" height="11.7" fill="#fff"/>
<text x="376.3" y="338.7" font-size="10.5" text-anchor="middle" fill="#000" textLength="38.9" lengthAdjust="spacingAndGlyphs">BANK 1</text>
<rect x="258" y="377" width="95.8" height="10.6" fill="#000"/>
<rect x="259.5" y="381.5" width="92.8" height="1" fill="#fff"/>
<rect x="259.7" y="378" width="1" height="8.6" fill="#fff"/>
<rect x="262.2" y="378" width="1" height="8.6" fill="#fff"/>
<rect x="266.93" y="378" width="1" height="8.6" fill="#fff"/>
<rect x="271.66" y="378" width="1" height="8.6" fill="#fff"/>
<rect x="281.12" y="378" width="1" height="8.6" fill="#fff"/>
<rect x="285.85" y="378" width="1" height="8.6" fill="#fff"/>
<rect x="290.58" y="378" width="1" height="8.6" fill="#fff"/>
<rect x="295.31" y="378" width="1" height="8.6" fill="#fff"/>
<rect x="300.04" y="378" width="1" height="8.6" fill="#fff"/>
<rect x="304.77" y="378" width="1" height="8.6" fill="#fff"/>
<rect x="309.5" y="378" width="1" height="8.6" fill="#fff"/>
<rect x="314.23" y="378" width="1" height="8.6" fill="#fff"/>
<rect x="318.96" y="378" width="1" height="8.6" fill="#fff"/>
<rect x="323.69" y="378" width="1" height="8.6" fill="#fff"/>
<rect x="328.42" y="378" width="1" height="8.6" fill="#fff"/>
<rect x="333.15" y="378" width="1" height="8.6" fill="#fff"/>
<rect x="337.88" y="378" width="1" height="8.6" fill="#fff"/>
<rect x="342.61" y="378" width="1" height="8.6" fill="#fff"/>
<rect x="347.34" y="378" width="1" height="8.6" fill="#fff"/>
<rect x="352.07" y="378" width="1" height="8.6" fill="#fff"/>
<rect x="351.5" y="378" width="1" height="8.6" fill="#fff"/>
<rect x="358" y="377" width="96.3" height="10.6" fill="#000"/>
<rect x="359.5" y="381.5" width="93.3" height="1" fill="#fff"/>
<rect x="359.5" y="378" width="1" height="8.6" fill="#fff"/>
<rect x="363.8" y="378" width="1" height="8.6" fill="#fff"/>
<rect x="368.5" y="378" width="1" height="8.6" fill="#fff"/>
<rect x="373.2" y="378" width="1" height="8.6" fill="#fff"/>
<rect x="377.9" y="378" width="1" height="8.6" fill="#fff"/>
<rect x="387" y="378" width="1" height="8.6" fill="#fff"/>
<rect x="391.7" y="378" width="1" height="8.6" fill="#fff"/>
<rect x="401.3" y="378" width="1" height="8.6" fill="#fff"/>
<rect x="405.8" y="378" width="1" height="8.6" fill="#fff"/>
<rect x="410.5" y="378" width="2" height="8.6" fill="#fff"/>
<rect x="415.2" y="378" width="1" height="8.6" fill="#fff"/>
<rect x="419.8" y="378" width="1" height="8.6" fill="#fff"/>
<rect x="429.2" y="378" width="1" height="8.6" fill="#fff"/>
<rect x="433.9" y="378" width="1" height="8.6" fill="#fff"/>
<rect x="438.4" y="378" width="1" height="8.6" fill="#fff"/>
<rect x="443.1" y="378" width="1" height="8.6" fill="#fff"/>
<rect x="452" y="378" width="1" height="8.6" fill="#fff"/>
<rect x="299" y="397" width="82" height="10" fill="#000"/>
<rect x="300.2" y="398" width="1" height="8" fill="#fff"/>
<rect x="304.9" y="398" width="1" height="8" fill="#fff"/>
<rect x="309.6" y="398" width="1" height="8" fill="#fff"/>
<rect x="314.3" y="398" width="1" height="8" fill="#fff"/>
<rect x="319" y="398" width="1" height="8" fill="#fff"/>
<rect x="328.4" y="398" width="1" height="8" fill="#fff"/>
<rect x="333.1" y="398" width="1" height="8" fill="#fff"/>
<rect x="342.5" y="398" width="1" height="8" fill="#fff"/>
<rect x="347.2" y="398" width="1" height="8" fill="#fff"/>
<rect x="351.9" y="398" width="1" height="8" fill="#fff"/>
<rect x="356.6" y="398" width="1" height="8" fill="#fff"/>
<rect x="361.3" y="398" width="1" height="8" fill="#fff"/>
<rect x="370.7" y="398" width="1" height="8" fill="#fff"/>
<rect x="375.4" y="398" width="1" height="8" fill="#fff"/>
<rect x="391" y="397" width="63.3" height="10" fill="#000"/>
<rect x="392.7" y="398" width="1" height="8" fill="#fff"/>
<rect x="396.2" y="398" width="1" height="8" fill="#fff"/>
<rect x="400.9" y="398" width="1" height="8" fill="#fff"/>
<rect x="409.6" y="398" width="1" height="8" fill="#fff"/>
<rect x="414.9" y="398" width="1" height="8" fill="#fff"/>
<rect x="424.1" y="398" width="1" height="8" fill="#fff"/>
<rect x="428.8" y="398" width="1" height="8" fill="#fff"/>
<rect x="437.5" y="398" width="1" height="8" fill="#fff"/>
<rect x="441.9" y="398" width="1" height="8" fill="#fff"/>
<rect x="446.6" y="398" width="1" height="8" fill="#fff"/>
<rect x="451.1" y="398" width="1" height="8" fill="#fff"/>
<rect x="459" y="393" width="90" height="20" fill="#000"/>
<rect x="460.2" y="394.2" width="87.6" height="17.6" fill="#fff"/>
<rect x="462.8" y="395.8" width="3.6" height="2.2" fill="#000"/>
<rect x="461.8" y="397" width="5.6" height="3.2" fill="#000"/>
<rect x="461.8" y="402" width="5" height="1.3" fill="#000"/>
<rect x="461.6" y="405" width="6.4" height="6.4" fill="#000"/>
<rect x="462.7" y="406" width="4.2" height="4.3" fill="#fff"/>
<rect x="470.17" y="395.8" width="3.6" height="2.2" fill="#000"/>
<rect x="469.17" y="397" width="5.6" height="3.2" fill="#000"/>
<rect x="469.17" y="402" width="5" height="1.3" fill="#000"/>
<rect x="468.97" y="405" width="6.4" height="6.4" fill="#000"/>
<rect x="470.07" y="406" width="4.2" height="4.3" fill="#fff"/>
<rect x="477.54" y="395.8" width="3.6" height="2.2" fill="#000"/>
<rect x="476.54" y="397" width="5.6" height="3.2" fill="#000"/>
<rect x="476.54" y="402" width="5" height="1.3" fill="#000"/>
<rect x="476.34" y="405" width="6.4" height="6.4" fill="#000"/>
<rect x="477.44" y="406" width="4.2" height="4.3" fill="#fff"/>
<rect x="484.91" y="395.8" width="3.6" height="2.2" fill="#000"/>
<rect x="483.91" y="397" width="5.6" height="3.2" fill="#000"/>
<rect x="483.91" y="402" width="5" height="1.3" fill="#000"/>
<rect x="483.71" y="405" width="6.4" height="6.4" fill="#000"/>
<rect x="484.81" y="406" width="4.2" height="4.3" fill="#fff"/>
<rect x="492.28" y="395.8" width="3.6" height="2.2" fill="#000"/>
<rect x="491.28" y="397" width="5.6" height="3.2" fill="#000"/>
<rect x="491.28" y="402" width="5" height="1.3" fill="#000"/>
<rect x="491.08" y="405" width="6.4" height="6.4" fill="#000"/>
<rect x="492.18" y="406" width="4.2" height="4.3" fill="#fff"/>
<rect x="499.65" y="395.8" width="3.6" height="2.2" fill="#000"/>
<rect x="498.65" y="397" width="5.6" height="3.2" fill="#000"/>
<rect x="498.65" y="402" width="5" height="1.3" fill="#000"/>
<rect x="498.45" y="405" width="6.4" height="6.4" fill="#000"/>
<rect x="499.55" y="406" width="4.2" height="4.3" fill="#fff"/>
<rect x="507.02" y="395.8" width="3.6" height="2.2" fill="#000"/>
<rect x="506.02" y="397" width="5.6" height="3.2" fill="#000"/>
<rect x="506.02" y="402" width="5" height="1.3" fill="#000"/>
<rect x="505.82" y="405" width="6.4" height="6.4" fill="#000"/>
<rect x="506.92" y="406" width="4.2" height="4.3" fill="#fff"/>
<rect x="514.39" y="395.8" width="3.6" height="2.2" fill="#000"/>
<rect x="513.39" y="397" width="5.6" height="3.2" fill="#000"/>
<rect x="513.39" y="402" width="5" height="1.3" fill="#000"/>
<rect x="513.19" y="405" width="6.4" height="6.4" fill="#000"/>
<rect x="514.29" y="406" width="4.2" height="4.3" fill="#fff"/>
<rect x="521.76" y="395.8" width="3.6" height="2.2" fill="#000"/>
<rect x="520.76" y="397" width="5.6" height="3.2" fill="#000"/>
<rect x="520.76" y="402" width="5" height="1.3" fill="#000"/>
<rect x="520.56" y="405" width="6.4" height="6.4" fill="#000"/>
<rect x="521.66" y="406" width="4.2" height="4.3" fill="#fff"/>
<rect x="529.13" y="395.8" width="3.6" height="2.2" fill="#000"/>
<rect x="528.13" y="397" width="5.6" height="3.2" fill="#000"/>
<rect x="528.13" y="402" width="5" height="1.3" fill="#000"/>
<rect x="527.93" y="405" width="6.4" height="6.4" fill="#000"/>
<rect x="529.03" y="406" width="4.2" height="4.3" fill="#fff"/>
<rect x="536.5" y="395.8" width="3.6" height="2.2" fill="#000"/>
<rect x="535.5" y="397" width="5.6" height="3.2" fill="#000"/>
<rect x="535.5" y="402" width="5" height="1.3" fill="#000"/>
<rect x="535.3" y="405" width="6.4" height="6.4" fill="#000"/>
<rect x="536.4" y="406" width="4.2" height="4.3" fill="#fff"/>
<rect x="543.87" y="395.8" width="3.6" height="2.2" fill="#000"/>
<rect x="542.87" y="397" width="5.6" height="3.2" fill="#000"/>
<rect x="542.87" y="402" width="5" height="1.3" fill="#000"/>
<rect x="542.67" y="405" width="6.4" height="6.4" fill="#000"/>
<rect x="543.77" y="406" width="4.2" height="4.3" fill="#fff"/>
<rect x="460" y="398.8" width="88" height="1.4" fill="#000"/>
<rect x="569" y="364" width="18.6" height="30" fill="#000"/>
<rect x="587.6" y="360" width="2.4" height="37" fill="#000"/>
<rect x="590" y="358" width="4" height="41" fill="#000"/>
<rect x="567" y="369" width="2" height="20" fill="#000"/>
<rect x="563" y="370.8" width="5" height="6.4" fill="#000"/>
<rect x="564.2" y="372" width="3" height="4" fill="#fff"/>
<rect x="563" y="380" width="5" height="6.6" fill="#000"/>
<rect x="564.2" y="381.2" width="3" height="4.2" fill="#fff"/>
<rect x="516" y="365" width="11" height="26" fill="#000"/>
<rect x="521" y="366" width="1" height="24" fill="#fff"/>
<rect x="517.5" y="366.1" width="8" height="1" fill="#fff"/>
<rect x="517.5" y="370.66" width="8" height="1" fill="#fff"/>
<rect x="517.5" y="375.22" width="8" height="1" fill="#fff"/>
<rect x="517.5" y="379.78" width="8" height="1" fill="#fff"/>
<rect x="517.5" y="384.34" width="8" height="1" fill="#fff"/>
<rect x="517.5" y="388.9" width="8" height="1" fill="#fff"/>
<rect x="530" y="365" width="10.4" height="26" fill="#000"/>
<rect x="534.7" y="366" width="1" height="24" fill="#fff"/>
<rect x="531.5" y="366.1" width="7.4" height="1" fill="#fff"/>
<rect x="531.5" y="370.66" width="7.4" height="1" fill="#fff"/>
<rect x="531.5" y="375.22" width="7.4" height="1" fill="#fff"/>
<rect x="531.5" y="379.78" width="7.4" height="1" fill="#fff"/>
<rect x="531.5" y="384.34" width="7.4" height="1" fill="#fff"/>
<rect x="531.5" y="388.9" width="7.4" height="1" fill="#fff"/>
<rect x="52" y="26" width="6" height="20.8" fill="#000"/>
<rect x="53.2" y="30.6" width="3.6" height="1.2" fill="#fff"/>
<rect x="53.2" y="34.7" width="3.6" height="1.2" fill="#fff"/>
<rect x="53.2" y="39.8" width="3.6" height="1.2" fill="#fff"/>
<rect x="53.2" y="44.6" width="3.6" height="1.2" fill="#fff"/>
<polygon points="40.5,32.3 44.3,35.6 40.5,38.9" fill="#fff" stroke="#000" stroke-width="1.2" shape-rendering="geometricPrecision"/>
<line x1="42.5" y1="35.6" x2="52" y2="35.6" stroke="#000" stroke-width="2.8" shape-rendering="geometricPrecision"/>
<rect x="7" y="28.1" width="34.2" height="15.7" rx="2.5" fill="#000" shape-rendering="geometricPrecision"/>
<rect x="8.6" y="29.8" width="30.6" height="11.7" rx="1.2" fill="#fff" shape-rendering="geometricPrecision"/>
<text x="23.9" y="39.5" font-size="10.5" text-anchor="middle" fill="#000">JP22</text>
<rect x="47" y="93.1" width="6" height="12.5" fill="#000"/>
<rect x="48.2" y="93.9" width="3.6" height="1.2" fill="#fff"/>
<rect x="48.2" y="98.5" width="3.6" height="1.2" fill="#fff"/>
<rect x="48.2" y="103.5" width="3.6" height="1.2" fill="#fff"/>
<polygon points="35.5,93.4 39.3,96.7 35.5,100" fill="#fff" stroke="#000" stroke-width="1.2" shape-rendering="geometricPrecision"/>
<line x1="37.5" y1="96.7" x2="47.5" y2="96.7" stroke="#000" stroke-width="2.8" shape-rendering="geometricPrecision"/>
<rect x="2" y="90.1" width="34.1" height="14.4" rx="2.5" fill="#000" shape-rendering="geometricPrecision"/>
<rect x="3.6" y="91.8" width="30.5" height="10.4" rx="1.2" fill="#fff" shape-rendering="geometricPrecision"/>
<text x="18.85" y="100.2" font-size="10.5" text-anchor="middle" fill="#000" textLength="24.2" lengthAdjust="spacingAndGlyphs">JP18</text>
<rect x="47" y="110.1" width="6" height="11.1" fill="#000"/>
<rect x="48.2" y="115.1" width="3.6" height="1.2" fill="#fff"/>
<rect x="48.2" y="119.4" width="3.6" height="1.2" fill="#fff"/>
<polygon points="35.5,111.35 39.3,114.65 35.5,117.95" fill="#fff" stroke="#000" stroke-width="1.2" shape-rendering="geometricPrecision"/>
<line x1="37.5" y1="114.65" x2="47.5" y2="114.65" stroke="#000" stroke-width="2.8" shape-rendering="geometricPrecision"/>
<rect x="2" y="107.9" width="34.1" height="14.7" rx="2.5" fill="#000" shape-rendering="geometricPrecision"/>
<rect x="3.6" y="109.6" width="30.5" height="10.7" rx="1.2" fill="#fff" shape-rendering="geometricPrecision"/>
<text x="18.85" y="118.3" font-size="10.5" text-anchor="middle" fill="#000" textLength="24.2" lengthAdjust="spacingAndGlyphs">JP17</text>
<rect x="47" y="128.2" width="6" height="20.4" fill="#000"/>
<rect x="48.2" y="132.8" width="3.6" height="1.2" fill="#fff"/>
<rect x="48.2" y="137.3" width="3.6" height="1.2" fill="#fff"/>
<rect x="48.2" y="141.8" width="3.6" height="1.2" fill="#fff"/>
<rect x="48.2" y="146.7" width="3.6" height="1.2" fill="#fff"/>
<polygon points="35.5,134.35 39.3,137.65 35.5,140.95" fill="#fff" stroke="#000" stroke-width="1.2" shape-rendering="geometricPrecision"/>
<line x1="37.5" y1="137.65" x2="47.5" y2="137.65" stroke="#000" stroke-width="2.8" shape-rendering="geometricPrecision"/>
<rect x="2" y="130.9" width="34.1" height="14.7" rx="2.5" fill="#000" shape-rendering="geometricPrecision"/>
<rect x="3.6" y="132.6" width="30.5" height="10.7" rx="1.2" fill="#fff" shape-rendering="geometricPrecision"/>
<text x="18.85" y="141.3" font-size="10.5" text-anchor="middle" fill="#000" textLength="24.2" lengthAdjust="spacingAndGlyphs">JP16</text>
<rect x="47" y="154" width="6" height="24.6" fill="#000"/>
<rect x="48.2" y="158.9" width="3.6" height="1.2" fill="#fff"/>
<rect x="48.2" y="163.6" width="3.6" height="1.2" fill="#fff"/>
<rect x="48.2" y="168.1" width="3.6" height="1.2" fill="#fff"/>
<rect x="48.2" y="172.6" width="3.6" height="1.2" fill="#fff"/>
<polygon points="35.5,162.35 39.3,165.65 35.5,168.95" fill="#fff" stroke="#000" stroke-width="1.2" shape-rendering="geometricPrecision"/>
<line x1="37.5" y1="165.65" x2="47.5" y2="165.65" stroke="#000" stroke-width="2.8" shape-rendering="geometricPrecision"/>
<rect x="2" y="158.9" width="34.1" height="14.7" rx="2.5" fill="#000" shape-rendering="geometricPrecision"/>
<rect x="3.6" y="160.6" width="30.5" height="10.7" rx="1.2" fill="#fff" shape-rendering="geometricPrecision"/>
<text x="18.85" y="169.3" font-size="10.5" text-anchor="middle" fill="#000" textLength="24.2" lengthAdjust="spacingAndGlyphs">JP15</text>
<rect x="47" y="184.2" width="6" height="11.3" fill="#000"/>
<rect x="48.2" y="188.9" width="3.6" height="1.2" fill="#fff"/>
<rect x="48.2" y="193.6" width="3.6" height="1.2" fill="#fff"/>
<polygon points="35.5,186.05 39.3,189.35 35.5,192.65" fill="#fff" stroke="#000" stroke-width="1.2" shape-rendering="geometricPrecision"/>
<line x1="37.5" y1="189.35" x2="47.5" y2="189.35" stroke="#000" stroke-width="2.8" shape-rendering="geometricPrecision"/>
<rect x="2" y="182" width="34.1" height="15.9" rx="2.5" fill="#000" shape-rendering="geometricPrecision"/>
<rect x="3.6" y="183.7" width="30.5" height="11.9" rx="1.2" fill="#fff" shape-rendering="geometricPrecision"/>
<text x="18.85" y="193.6" font-size="10.5" text-anchor="middle" fill="#000" textLength="24.2" lengthAdjust="spacingAndGlyphs">JP14</text>
<rect x="112.4" y="42" width="11.4" height="5.6" fill="#000"/>
<rect x="115" y="43" width="1.2" height="3.6" fill="#fff"/>
<rect x="118.4" y="43" width="1.2" height="3.6" fill="#fff"/>
<rect x="112.4" y="50.4" width="11.4" height="5.1" fill="#000"/>
<rect x="115" y="51.4" width="1.2" height="3.1" fill="#fff"/>
<rect x="118.4" y="51.4" width="1.2" height="3.1" fill="#fff"/>
<rect x="112.4" y="57.4" width="11.4" height="5.5" fill="#000"/>
<rect x="115" y="58.4" width="1.2" height="3.5" fill="#fff"/>
<rect x="118.4" y="58.4" width="1.2" height="3.5" fill="#fff"/>
<line x1="105.5" y1="38.5" x2="113" y2="44.5" stroke="#000" stroke-width="2" shape-rendering="geometricPrecision"/>
<polygon points="99.5,49.3 103.3,52.6 99.5,55.9" fill="#fff" stroke="#000" stroke-width="1.2" shape-rendering="geometricPrecision"/>
<line x1="101.5" y1="52.6" x2="112.4" y2="52.6" stroke="#000" stroke-width="2.8" shape-rendering="geometricPrecision"/>
<polygon points="104,66 112.5,60 107,68" fill="#fff" stroke="#000" stroke-width="1.2" shape-rendering="geometricPrecision"/>
<rect x="80.8" y="25.6" width="26.7" height="15.2" rx="2.5" fill="#000" shape-rendering="geometricPrecision"/>
<rect x="82.4" y="27.3" width="23.1" height="11.2" rx="1.2" fill="#fff" shape-rendering="geometricPrecision"/>
<text x="93.95" y="36.5" font-size="10.5" text-anchor="middle" fill="#000">J22</text>
<rect x="72.2" y="45" width="28" height="14.7" rx="2.5" fill="#000" shape-rendering="geometricPrecision"/>
<rect x="73.8" y="46.7" width="24.4" height="10.7" rx="1.2" fill="#fff" shape-rendering="geometricPrecision"/>
<text x="86" y="55.4" font-size="10.5" text-anchor="middle" fill="#000">J24</text>
<rect x="80.5" y="64.7" width="27.3" height="14.7" rx="2.5" fill="#000" shape-rendering="geometricPrecision"/>
<rect x="82.1" y="66.4" width="23.7" height="10.7" rx="1.2" fill="#fff" shape-rendering="geometricPrecision"/>
<text x="93.95" y="75.1" font-size="10.5" text-anchor="middle" fill="#000">J25</text>
<rect x="128.4" y="50.4" width="12.7" height="5.1" fill="#000"/>
<rect x="132.4" y="51.4" width="1.2" height="3.1" fill="#fff"/>
<rect x="135.7" y="51.4" width="1.2" height="3.1" fill="#fff"/>
<rect x="139" y="51.4" width="1.2" height="3.1" fill="#fff"/>
<rect x="128.4" y="57.4" width="12.7" height="5.5" fill="#000"/>
<rect x="132.4" y="58.4" width="1.2" height="3.5" fill="#fff"/>
<rect x="135.7" y="58.4" width="1.2" height="3.5" fill="#fff"/>
<rect x="139" y="58.4" width="1.2" height="3.5" fill="#fff"/>
<rect x="128.4" y="65" width="12.7" height="5.7" fill="#000"/>
<rect x="132.4" y="66" width="1.2" height="3.7" fill="#fff"/>
<rect x="135.7" y="66" width="1.2" height="3.7" fill="#fff"/>
<rect x="139" y="66" width="1.2" height="3.7" fill="#fff"/>
<polygon points="130.7,36 134,40.2 137.3,36" fill="#fff" stroke="#000" stroke-width="1.2" shape-rendering="geometricPrecision"/>
<line x1="134" y1="38.4" x2="134" y2="50.4" stroke="#000" stroke-width="2.8" shape-rendering="geometricPrecision"/>
<line x1="141" y1="59.5" x2="147.5" y2="54" stroke="#000" stroke-width="2" shape-rendering="geometricPrecision"/>
<polygon points="127.5,84 130.8,79.8 134.1,84" fill="#fff" stroke="#000" stroke-width="1.2" shape-rendering="geometricPrecision"/>
<line x1="130.8" y1="81.6" x2="130.8" y2="70.5" stroke="#000" stroke-width="2.8" shape-rendering="geometricPrecision"/>
<rect x="121.3" y="22" width="27.4" height="14.8" rx="2.5" fill="#000" shape-rendering="geometricPrecision"/>
<rect x="122.9" y="23.7" width="23.8" height="10.8" rx="1.2" fill="#fff" shape-rendering="geometricPrecision"/>
<text x="134.8" y="32.5" font-size="10.5" text-anchor="middle" fill="#000">J23</text>
<rect x="145.3" y="41" width="26.9" height="14.7" rx="2.5" fill="#000" shape-rendering="geometricPrecision"/>
<rect x="146.9" y="42.7" width="23.3" height="10.7" rx="1.2" fill="#fff" shape-rendering="geometricPrecision"/>
<text x="158.55" y="51.4" font-size="10.5" text-anchor="middle" fill="#000">J21</text>
<rect x="117.5" y="83.1" width="26.3" height="14.4" rx="2.5" fill="#000" shape-rendering="geometricPrecision"/>
<rect x="119.1" y="84.8" width="22.7" height="10.4" rx="1.2" fill="#fff" shape-rendering="geometricPrecision"/>
<text x="130.45" y="93.2" font-size="10.5" text-anchor="middle" fill="#000">J13</text>
<rect x="166" y="22.7" width="6.2" height="14.9" fill="#000"/>
<rect x="167.2" y="28.2" width="3.8" height="1.2" fill="#fff"/>
<rect x="167.2" y="32.2" width="3.8" height="1.2" fill="#fff"/>
<line x1="171.5" y1="27.5" x2="179" y2="21" stroke="#000" stroke-width="2" shape-rendering="geometricPrecision"/>
<rect x="176.2" y="8.6" width="27.5" height="14.2" rx="2.5" fill="#000" shape-rendering="geometricPrecision"/>
<rect x="177.8" y="10.3" width="23.9" height="10.2" rx="1.2" fill="#fff" shape-rendering="geometricPrecision"/>
<text x="189.75" y="19" font-size="10.5" text-anchor="middle" fill="#000">J20</text>
<rect x="174.2" y="55.2" width="11.2" height="5.2" fill="#000"/>
<rect x="178.7" y="56.2" width="1.2" height="3.2" fill="#fff"/>
<rect x="182.4" y="56.2" width="1.2" height="3.2" fill="#fff"/>
<rect x="174.2" y="62.2" width="11.2" height="5.1" fill="#000"/>
<rect x="178.7" y="63.2" width="1.2" height="3.1" fill="#fff"/>
<rect x="182.4" y="63.2" width="1.2" height="3.1" fill="#fff"/>
<polygon points="197.5,54.3 193.7,57.6 197.5,60.9" fill="#fff" stroke="#000" stroke-width="1.2" shape-rendering="geometricPrecision"/>
<line x1="195.5" y1="57.6" x2="185.4" y2="57.6" stroke="#000" stroke-width="2.8" shape-rendering="geometricPrecision"/>
<line x1="185" y1="63.5" x2="192.5" y2="71" stroke="#000" stroke-width="2" shape-rendering="geometricPrecision"/>
<rect x="196.8" y="49.5" width="28.9" height="14.7" rx="2.5" fill="#000" shape-rendering="geometricPrecision"/>
<rect x="198.4" y="51.2" width="25.3" height="10.7" rx="1.2" fill="#fff" shape-rendering="geometricPrecision"/>
<text x="211.05" y="60.9" font-size="10.5" text-anchor="middle" fill="#000">J11</text>
<rect x="190.4" y="69.8" width="27.6" height="14.8" rx="2.5" fill="#000" shape-rendering="geometricPrecision"/>
<rect x="192" y="71.5" width="24" height="10.8" rx="1.2" fill="#fff" shape-rendering="geometricPrecision"/>
<text x="204" y="80.3" font-size="10.5" text-anchor="middle" fill="#000">J12</text>
<rect x="265" y="53.1" width="14.4" height="5.5" fill="#000"/>
<rect x="270.2" y="54.1" width="1.2" height="3.5" fill="#fff"/>
<rect x="273.7" y="54.1" width="1.2" height="3.5" fill="#fff"/>
<rect x="265" y="61" width="14.4" height="5.8" fill="#000"/>
<rect x="270.2" y="62" width="1.2" height="3.8" fill="#fff"/>
<rect x="273.7" y="62" width="1.2" height="3.8" fill="#fff"/>
<line x1="279" y1="55.5" x2="287.5" y2="48.5" stroke="#000" stroke-width="2" shape-rendering="geometricPrecision"/>
<line x1="279" y1="64" x2="287.5" y2="71.5" stroke="#000" stroke-width="2" shape-rendering="geometricPrecision"/>
<rect x="285.2" y="36" width="27.6" height="16" rx="2.5" fill="#000" shape-rendering="geometricPrecision"/>
<rect x="286.8" y="37.7" width="24" height="12" rx="1.2" fill="#fff" shape-rendering="geometricPrecision"/>
<text x="298.8" y="47.7" font-size="10.5" text-anchor="middle" fill="#000">J16</text>
<rect x="285.2" y="67.5" width="27.6" height="15.7" rx="2.5" fill="#000" shape-rendering="geometricPrecision"/>
<rect x="286.8" y="69.2" width="24" height="11.7" rx="1.2" fill="#fff" shape-rendering="geometricPrecision"/>
<text x="298.8" y="78.9" font-size="10.5" text-anchor="middle" fill="#000">J56</text>
<rect x="145" y="79.3" width="12" height="5.5" fill="#000"/>
<rect x="146" y="80.3" width="2" height="3.5" fill="#fff"/>
<line x1="156" y1="80.5" x2="166.5" y2="89" stroke="#000" stroke-width="2" shape-rendering="geometricPrecision"/>
<rect x="163.8" y="87.7" width="24.8" height="12.6" rx="2.5" fill="#000" shape-rendering="geometricPrecision"/>
<rect x="165.4" y="89.4" width="21.2" height="8.6" rx="1.2" fill="#fff" shape-rendering="geometricPrecision"/>
<text x="176" y="97.4" font-size="10.5" text-anchor="middle" fill="#000">J50</text>
<rect x="560.1" y="29.2" width="11.9" height="5.4" fill="#000"/>
<rect x="564.4" y="30.2" width="1.2" height="3.4" fill="#fff"/>
<rect x="567.4" y="30.2" width="1.2" height="3.4" fill="#fff"/>
<rect x="560.1" y="37.1" width="11.9" height="5.7" fill="#000"/>
<rect x="564.4" y="38.1" width="1.2" height="3.7" fill="#fff"/>
<rect x="567.4" y="38.1" width="1.2" height="3.7" fill="#fff"/>
<rect x="574" y="32.9" width="16.1" height="5.9" fill="#000"/>
<rect x="578.4" y="33.9" width="1.2" height="3.9" fill="#fff"/>
<rect x="582" y="33.9" width="1.2" height="3.9" fill="#fff"/>
<rect x="584.4" y="34.5" width="4.4" height="4.3" fill="#fff"/>
<rect x="585.6" y="35.7" width="2" height="3.1" fill="#000"/>
<polygon points="563,15.5 566.3,19.7 569.6,15.5" fill="#fff" stroke="#000" stroke-width="1.2" shape-rendering="geometricPrecision"/>
<line x1="566.3" y1="17.9" x2="566.3" y2="29.2" stroke="#000" stroke-width="2.8" shape-rendering="geometricPrecision"/>
<polygon points="563.3,55.5 566.6,51.3 569.9,55.5" fill="#fff" stroke="#000" stroke-width="1.2" shape-rendering="geometricPrecision"/>
<line x1="566.6" y1="53.1" x2="566.6" y2="42.8" stroke="#000" stroke-width="2.8" shape-rendering="geometricPrecision"/>
<polygon points="601.2,32.9 597.4,36.2 601.2,39.5" fill="#fff" stroke="#000" stroke-width="1.2" shape-rendering="geometricPrecision"/>
<line x1="599.2" y1="36.2" x2="590.1" y2="36.2" stroke="#000" stroke-width="2.8" shape-rendering="geometricPrecision"/>
<rect x="553.3" y="1.6" width="26.9" height="14.4" rx="2.5" fill="#000" shape-rendering="geometricPrecision"/>
<rect x="554.9" y="3.3" width="23.3" height="10.4" rx="1.2" fill="#fff" shape-rendering="geometricPrecision"/>
<text x="566.55" y="11.7" font-size="10.5" text-anchor="middle" fill="#000">J19</text>
<rect x="552" y="54.7" width="26.7" height="15.6" rx="2.5" fill="#000" shape-rendering="geometricPrecision"/>
<rect x="553.6" y="56.4" width="23.1" height="11.6" rx="1.2" fill="#fff" shape-rendering="geometricPrecision"/>
<text x="565.15" y="66" font-size="10.5" text-anchor="middle" fill="#000">J17</text>
<rect x="600.6" y="29.6" width="29" height="13.8" rx="2.5" fill="#000" shape-rendering="geometricPrecision"/>
<rect x="602.2" y="31.3" width="25.4" height="9.8" rx="1.2" fill="#fff" shape-rendering="geometricPrecision"/>
<text x="614.9" y="39.1" font-size="10.5" text-anchor="middle" fill="#000">J18</text>
<rect x="236.8" y="137" width="5.9" height="12.7" fill="#000"/>
<rect x="237.8" y="137.9" width="3.9" height="1.2" fill="#fff"/>
<rect x="237.8" y="142.8" width="3.9" height="1.2" fill="#fff"/>
<rect x="237.8" y="147.7" width="3.9" height="1.2" fill="#fff"/>
<polygon points="249.5,134 243,143.5 253,138" fill="#fff" stroke="#000" stroke-width="1.2" shape-rendering="geometricPrecision"/>
<rect x="248.2" y="124.1" width="27.5" height="15.4" rx="2.5" fill="#000" shape-rendering="geometricPrecision"/>
<rect x="249.8" y="125.8" width="23.9" height="11.4" rx="1.2" fill="#fff" shape-rendering="geometricPrecision"/>
<text x="261.75" y="135.2" font-size="10.5" text-anchor="middle" fill="#000">J10</text>
<rect x="236.8" y="152.9" width="5.9" height="12" fill="#000"/>
<rect x="237.8" y="154.3" width="3.9" height="1.2" fill="#fff"/>
<rect x="237.8" y="158.7" width="3.9" height="1.2" fill="#fff"/>
<polygon points="254.8,155.7 251,159 254.8,162.3" fill="#fff" stroke="#000" stroke-width="1.2" shape-rendering="geometricPrecision"/>
<line x1="252.8" y1="159" x2="242.7" y2="159" stroke="#000" stroke-width="2.8" shape-rendering="geometricPrecision"/>
<rect x="254.1" y="152" width="21.2" height="14.8" rx="2.5" fill="#000" shape-rendering="geometricPrecision"/>
<rect x="255.7" y="153.7" width="17.6" height="10.8" rx="1.2" fill="#fff" shape-rendering="geometricPrecision"/>
<text x="264.5" y="162.5" font-size="10.5" text-anchor="middle" fill="#000">J9</text>
<rect x="184.9" y="203.9" width="6.9" height="13" fill="#000"/>
<rect x="186.1" y="205.1" width="3.5" height="4.5" fill="#fff"/>
<rect x="186.1" y="211.2" width="3.5" height="4.5" fill="#fff"/>
<polygon points="203.5,206.5 199.7,209.8 203.5,213.1" fill="#fff" stroke="#000" stroke-width="1.2" shape-rendering="geometricPrecision"/>
<line x1="201.5" y1="209.8" x2="191.8" y2="209.8" stroke="#000" stroke-width="2.8" shape-rendering="geometricPrecision"/>
<rect x="202.9" y="203" width="21" height="14.8" rx="2.5" fill="#000" shape-rendering="geometricPrecision"/>
<rect x="204.5" y="204.7" width="17.4" height="10.8" rx="1.2" fill="#fff" shape-rendering="geometricPrecision"/>
<text x="213.2" y="213.5" font-size="10.5" text-anchor="middle" fill="#000">J8</text>
<rect x="183" y="235.9" width="6.8" height="11.8" fill="#000"/>
<rect x="184.2" y="237.1" width="3.4" height="3.9" fill="#fff"/>
<rect x="184.2" y="242.6" width="3.4" height="3.9" fill="#fff"/>
<rect x="186.2" y="236.9" width="2.6" height="4.1" fill="#000"/>
<polygon points="201.6,237.7 197.8,241 201.6,244.3" fill="#fff" stroke="#000" stroke-width="1.2" shape-rendering="geometricPrecision"/>
<line x1="199.6" y1="241" x2="189.8" y2="241" stroke="#000" stroke-width="2.8" shape-rendering="geometricPrecision"/>
<rect x="201" y="234" width="23.5" height="14.6" rx="2.5" fill="#000" shape-rendering="geometricPrecision"/>
<rect x="202.6" y="235.7" width="19.9" height="10.6" rx="1.2" fill="#fff" shape-rendering="geometricPrecision"/>
<text x="211.55" y="244.3" font-size="10.5" text-anchor="middle" fill="#000">J7</text>
<rect x="183" y="253.9" width="6.8" height="12.7" fill="#000"/>
<rect x="184.2" y="255.1" width="3.4" height="4.35" fill="#fff"/>
<rect x="184.2" y="261.05" width="3.4" height="4.35" fill="#fff"/>
<polygon points="201.6,256.9 197.8,260.2 201.6,263.5" fill="#fff" stroke="#000" stroke-width="1.2" shape-rendering="geometricPrecision"/>
<line x1="199.6" y1="260.2" x2="189.8" y2="260.2" stroke="#000" stroke-width="2.8" shape-rendering="geometricPrecision"/>
<rect x="201" y="253.4" width="23.5" height="14.6" rx="2.5" fill="#000" shape-rendering="geometricPrecision"/>
<rect x="202.6" y="255.1" width="19.9" height="10.6" rx="1.2" fill="#fff" shape-rendering="geometricPrecision"/>
<text x="211.55" y="263.7" font-size="10.5" text-anchor="middle" fill="#000">J6</text>
<polygon points="222,221 269.3,221 272.3,224 272.3,271.3 269.3,274.3 222,274.3 219,271.3 219,224" fill="#000"/>
<rect x="227.883" y="221" width="1.1" height="2.6" fill="#fff"/>
<rect x="227.883" y="271.7" width="1.1" height="2.6" fill="#fff"/>
<rect x="236.767" y="221" width="1.1" height="2.6" fill="#fff"/>
<rect x="236.767" y="271.7" width="1.1" height="2.6" fill="#fff"/>
<rect x="245.65" y="221" width="1.1" height="2.6" fill="#fff"/>
<rect x="245.65" y="271.7" width="1.1" height="2.6" fill="#fff"/>
<rect x="254.533" y="221" width="1.1" height="2.6" fill="#fff"/>
<rect x="254.533" y="271.7" width="1.1" height="2.6" fill="#fff"/>
<rect x="263.417" y="221" width="1.1" height="2.6" fill="#fff"/>
<rect x="263.417" y="271.7" width="1.1" height="2.6" fill="#fff"/>
<rect x="219" y="229.883" width="2.6" height="1.1" fill="#fff"/>
<rect x="269.7" y="229.883" width="2.6" height="1.1" fill="#fff"/>
<rect x="219" y="238.767" width="2.6" height="1.1" fill="#fff"/>
<rect x="269.7" y="238.767" width="2.6" height="1.1" fill="#fff"/>
<rect x="219" y="247.65" width="2.6" height="1.1" fill="#fff"/>
<rect x="269.7" y="247.65" width="2.6" height="1.1" fill="#fff"/>
<rect x="219" y="256.533" width="2.6" height="1.1" fill="#fff"/>
<rect x="269.7" y="256.533" width="2.6" height="1.1" fill="#fff"/>
<rect x="219" y="265.417" width="2.6" height="1.1" fill="#fff"/>
<rect x="269.7" y="265.417" width="2.6" height="1.1" fill="#fff"/>
<rect x="173.3" y="312.2" width="13.9" height="5.1" fill="#000"/>
<rect x="177.7" y="313.2" width="1.2" height="3.1" fill="#fff"/>
<rect x="181.3" y="313.2" width="1.2" height="3.1" fill="#fff"/>
<rect x="173.3" y="318.9" width="13.9" height="5.4" fill="#000"/>
<rect x="177.8" y="320" width="1.1" height="3.2" fill="#fff"/>
<rect x="181.4" y="320" width="4.8" height="2.6" fill="#fff"/>
<rect x="183" y="321" width="3.2" height="1.6" fill="#000"/>
<rect x="183.8" y="321.6" width="2.4" height="1" fill="#fff"/>
<rect x="173.3" y="326.1" width="13.9" height="5.9" fill="#000"/>
<rect x="177.8" y="327.2" width="8.4" height="3.2" fill="#fff"/>
<rect x="181" y="327.2" width="1.2" height="3.2" fill="#000"/>
<rect x="177.8" y="328.4" width="8.4" height="1" fill="#000"/>
<line x1="187" y1="313.5" x2="195" y2="306.5" stroke="#000" stroke-width="2" shape-rendering="geometricPrecision"/>
<polygon points="199.3,318.9 195.5,322.2 199.3,325.5" fill="#fff" stroke="#000" stroke-width="1.2" shape-rendering="geometricPrecision"/>
<line x1="197.3" y1="322.2" x2="187.2" y2="322.2" stroke="#000" stroke-width="2.8" shape-rendering="geometricPrecision"/>
<line x1="187" y1="327.5" x2="196" y2="336" stroke="#000" stroke-width="2" shape-rendering="geometricPrecision"/>
<rect x="193.2" y="295.1" width="19.8" height="13.9" rx="2.5" fill="#000" shape-rendering="geometricPrecision"/>
<rect x="194.8" y="296.8" width="16.2" height="9.9" rx="1.2" fill="#fff" shape-rendering="geometricPrecision"/>
<text x="202.9" y="304.7" font-size="10.5" text-anchor="middle" fill="#000">J4</text>
<rect x="198.7" y="315.3" width="20.9" height="14.1" rx="2.5" fill="#000" shape-rendering="geometricPrecision"/>
<rect x="200.3" y="317" width="17.3" height="10.1" rx="1.2" fill="#fff" shape-rendering="geometricPrecision"/>
<text x="208.95" y="325.1" font-size="10.5" text-anchor="middle" fill="#000">J3</text>
<rect x="193.2" y="334.4" width="20" height="14.6" rx="2.5" fill="#000" shape-rendering="geometricPrecision"/>
<rect x="194.8" y="336.1" width="16.4" height="10.6" rx="1.2" fill="#fff" shape-rendering="geometricPrecision"/>
<text x="203" y="344.7" font-size="10.5" text-anchor="middle" fill="#000">J2</text>
<rect x="138.8" y="393.3" width="15" height="5.6" fill="#000"/>
<rect x="147.7" y="394.3" width="1.2" height="3.6" fill="#fff"/>
<rect x="138.8" y="401.3" width="15" height="5.4" fill="#000"/>
<rect x="147.7" y="402.3" width="1.2" height="3.4" fill="#fff"/>
<polygon points="127.4,392.7 131.2,396 127.4,399.3" fill="#fff" stroke="#000" stroke-width="1.2" shape-rendering="geometricPrecision"/>
<line x1="129.4" y1="396" x2="138.8" y2="396" stroke="#000" stroke-width="2.8" shape-rendering="geometricPrecision"/>
<polygon points="128.5,409.5 139,402.5 132.5,412" fill="#fff" stroke="#000" stroke-width="1.2" shape-rendering="geometricPrecision"/>
<rect x="98.2" y="388.9" width="29.8" height="15.2" rx="2.5" fill="#000" shape-rendering="geometricPrecision"/>
<rect x="99.8" y="390.6" width="26.2" height="11.2" rx="1.2" fill="#fff" shape-rendering="geometricPrecision"/>
<text x="112.9" y="399.8" font-size="10.5" text-anchor="middle" fill="#000">JP2</text>
<rect x="105.8" y="408.1" width="28.3" height="14.4" rx="2.5" fill="#000" shape-rendering="geometricPrecision"/>
<rect x="107.4" y="409.8" width="24.7" height="10.4" rx="1.2" fill="#fff" shape-rendering="geometricPrecision"/>
<text x="119.75" y="418.2" font-size="10.5" text-anchor="middle" fill="#000">JP1</text>
<rect x="230.8" y="401.9" width="15.2" height="5.7" fill="#000"/>
<rect x="239.8" y="402.9" width="1.2" height="3.7" fill="#fff"/>
<polygon points="233.7,389.2 237,393.4 240.3,389.2" fill="#fff" stroke="#000" stroke-width="1.2" shape-rendering="geometricPrecision"/>
<line x1="237" y1="391.6" x2="237" y2="402" stroke="#000" stroke-width="2.8" shape-rendering="geometricPrecision"/>
<rect x="224.4" y="375.4" width="26.5" height="14.3" rx="2.5" fill="#000" shape-rendering="geometricPrecision"/>
<rect x="226" y="377.1" width="22.9" height="10.3" rx="1.2" fill="#fff" shape-rendering="geometricPrecision"/>
<text x="237.45" y="385.4" font-size="10.5" text-anchor="middle" fill="#000">J51</text>
<polygon points="302.2,364.8 305.5,369 308.8,364.8" fill="#fff" stroke="#000" stroke-width="1.2" shape-rendering="geometricPrecision"/>
<line x1="305.5" y1="367.2" x2="305.5" y2="377.3" stroke="#000" stroke-width="2.8" shape-rendering="geometricPrecision"/>
<rect x="292.7" y="350.1" width="26.2" height="15.2" rx="2.5" fill="#000" shape-rendering="geometricPrecision"/>
<rect x="294.3" y="351.8" width="22.6" height="11.2" rx="1.2" fill="#fff" shape-rendering="geometricPrecision"/>
<text x="305.6" y="361" font-size="10.5" text-anchor="middle" fill="#000">JP6</text>
<polygon points="413.9,364.6 417.2,368.8 420.5,364.6" fill="#fff" stroke="#000" stroke-width="1.2" shape-rendering="geometricPrecision"/>
<line x1="417.2" y1="367" x2="417.2" y2="377.3" stroke="#000" stroke-width="2.8" shape-rendering="geometricPrecision"/>
<rect x="404.3" y="349.5" width="26.2" height="15.6" rx="2.5" fill="#000" shape-rendering="geometricPrecision"/>
<rect x="405.9" y="351.2" width="22.6" height="11.6" rx="1.2" fill="#fff" shape-rendering="geometricPrecision"/>
<text x="417.2" y="360.8" font-size="10.5" text-anchor="middle" fill="#000">JP4</text>
<polygon points="338.2,420.5 341.5,416.3 344.8,420.5" fill="#fff" stroke="#000" stroke-width="1.2" shape-rendering="geometricPrecision"/>
<line x1="341.5" y1="418.1" x2="341.5" y2="407" stroke="#000" stroke-width="2.8" shape-rendering="geometricPrecision"/>
<rect x="327.8" y="419.9" width="26.6" height="15.6" rx="2.5" fill="#000" shape-rendering="geometricPrecision"/>
<rect x="329.4" y="421.6" width="23" height="11.6" rx="1.2" fill="#fff" shape-rendering="geometricPrecision"/>
<text x="340.9" y="431.2" font-size="10.5" text-anchor="middle" fill="#000">JP5</text>
<polygon points="417.3,420.5 420.6,416.3 423.9,420.5" fill="#fff" stroke="#000" stroke-width="1.2" shape-rendering="geometricPrecision"/>
<line x1="420.6" y1="418.1" x2="420.6" y2="407" stroke="#000" stroke-width="2.8" shape-rendering="geometricPrecision"/>
<rect x="407.6" y="419.9" width="26" height="15.6" rx="2.5" fill="#000" shape-rendering="geometricPrecision"/>
<rect x="409.2" y="421.6" width="22.4" height="11.6" rx="1.2" fill="#fff" shape-rendering="geometricPrecision"/>
<text x="420.4" y="431.2" font-size="10.5" text-anchor="middle" fill="#000">JP3</text>
<rect x="556" y="325" width="28.7" height="6" fill="#000"/>
<rect x="560.1" y="326" width="1.1" height="4" fill="#fff"/>
<rect x="565.5" y="326" width="1.1" height="4" fill="#fff"/>
<rect x="570.1" y="326" width="1.1" height="4" fill="#fff"/>
<rect x="575" y="326.6" width="9" height="1.1" fill="#fff"/>
<rect x="575" y="326.6" width="1" height="3.4" fill="#fff"/>
<rect x="579" y="326.6" width="1" height="3.4" fill="#fff"/>
<polygon points="567.5,312.4 570.8,316.6 574.1,312.4" fill="#fff" stroke="#000" stroke-width="1.2" shape-rendering="geometricPrecision"/>
<line x1="570.8" y1="314.8" x2="570.8" y2="325" stroke="#000" stroke-width="2.8" shape-rendering="geometricPrecision"/>
<rect x="557.8" y="297.8" width="27.2" height="15.1" rx="2.5" fill="#000" shape-rendering="geometricPrecision"/>
<rect x="559.4" y="299.5" width="23.6" height="11.1" rx="1.2" fill="#fff" shape-rendering="geometricPrecision"/>
<text x="571.2" y="308.6" font-size="10.5" text-anchor="middle" fill="#000" textLength="18.4" lengthAdjust="spacingAndGlyphs">JP9</text>
<line x1="528.5" y1="358.5" x2="536" y2="366" stroke="#000" stroke-width="2" shape-rendering="geometricPrecision"/>
<rect x="503.5" y="346.5" width="27.5" height="14.5" rx="2.5" fill="#000" shape-rendering="geometricPrecision"/>
<rect x="505.1" y="348.2" width="23.9" height="10.5" rx="1.2" fill="#fff" shape-rendering="geometricPrecision"/>
<text x="517.05" y="356.7" font-size="10.5" text-anchor="middle" fill="#000">JP7</text>
<polygon points="504.4,374.3 508.2,377.6 504.4,380.9" fill="#fff" stroke="#000" stroke-width="1.2" shape-rendering="geometricPrecision"/>
<line x1="506.4" y1="377.6" x2="516" y2="377.6" stroke="#000" stroke-width="2.8" shape-rendering="geometricPrecision"/>
<rect x="476.5" y="370.5" width="28.5" height="15" rx="2.5" fill="#000" shape-rendering="geometricPrecision"/>
<rect x="478.1" y="372.2" width="24.9" height="11" rx="1.2" fill="#fff" shape-rendering="geometricPrecision"/>
<text x="490.55" y="381.2" font-size="10.5" text-anchor="middle" fill="#000">JP8</text>
<rect x="552" y="234.6" width="6" height="16.1" fill="#000"/>
<rect x="553" y="236.2" width="4" height="1.2" fill="#fff"/>
<rect x="553" y="240.3" width="4" height="1.2" fill="#fff"/>
<rect x="553" y="244.8" width="4" height="1.2" fill="#fff"/>
<rect x="559" y="234.6" width="6" height="16.1" fill="#000"/>
<rect x="560" y="236.2" width="4" height="1.2" fill="#fff"/>
<rect x="560" y="240.3" width="4" height="1.2" fill="#fff"/>
<rect x="560" y="244.8" width="4" height="1.2" fill="#fff"/>
<line x1="555" y1="236" x2="563.5" y2="227.5" stroke="#000" stroke-width="2.6" shape-rendering="geometricPrecision"/>
<polygon points="577,239 573.2,242.3 577,245.6" fill="#fff" stroke="#000" stroke-width="1.2" shape-rendering="geometricPrecision"/>
<line x1="575" y1="242.3" x2="565" y2="242.3" stroke="#000" stroke-width="2.8" shape-rendering="geometricPrecision"/>
<rect x="561.2" y="215.2" width="33.8" height="13.9" rx="2.5" fill="#000" shape-rendering="geometricPrecision"/>
<rect x="562.8" y="216.9" width="30.2" height="9.9" rx="1.2" fill="#fff" shape-rendering="geometricPrecision"/>
<text x="577.9" y="224.8" font-size="10.5" text-anchor="middle" fill="#000" textLength="24.4" lengthAdjust="spacingAndGlyphs">JP13</text>
<rect x="576.2" y="235.2" width="33.4" height="14.4" rx="2.5" fill="#000" shape-rendering="geometricPrecision"/>
<rect x="577.8" y="236.9" width="29.8" height="10.4" rx="1.2" fill="#fff" shape-rendering="geometricPrecision"/>
<text x="592.7" y="245.3" font-size="10.5" text-anchor="middle" fill="#000" textLength="22.4" lengthAdjust="spacingAndGlyphs">JP11</text>
</svg>
</body>
</html>
